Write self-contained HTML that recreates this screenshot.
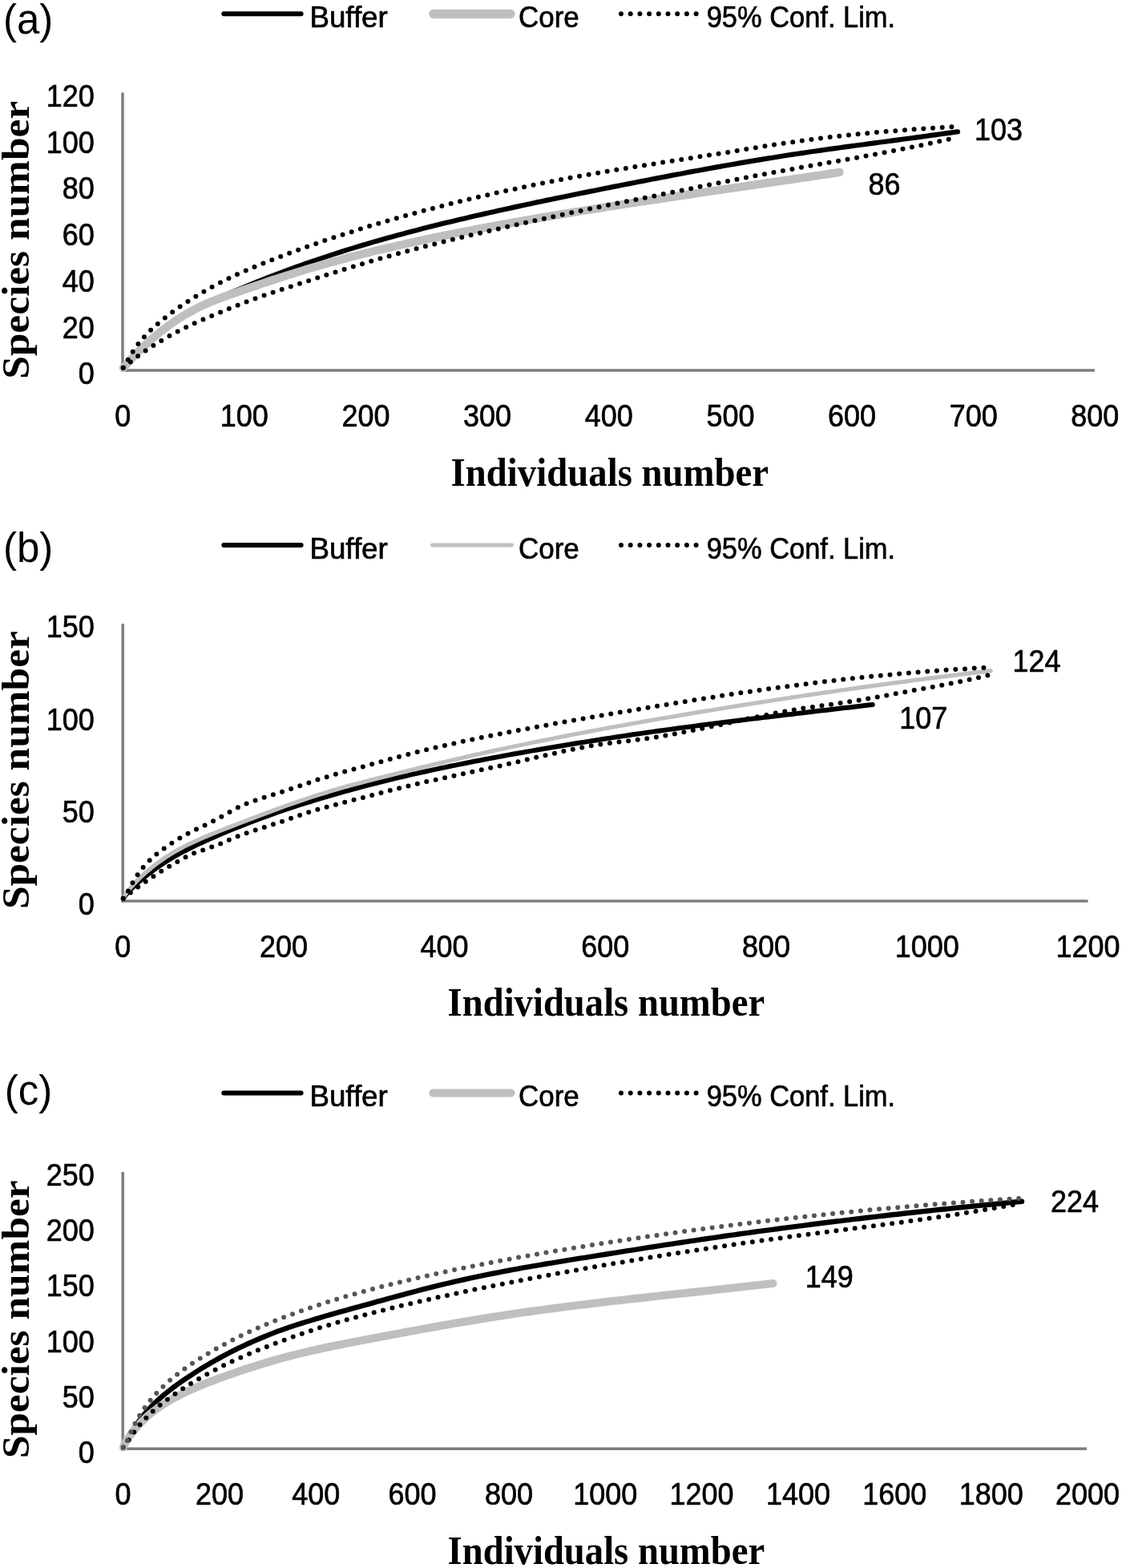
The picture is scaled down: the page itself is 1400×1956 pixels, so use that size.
<!DOCTYPE html>
<html lang="en">
<head>
<meta charset="utf-8">
<title>Rarefaction curves: Buffer vs Core</title>
<style>
html,body{margin:0;padding:0;background:#fff;}
body{width:1400px;height:1956px;overflow:hidden;}
svg{display:block;}
text{fill:#000;}
</style>
</head>
<body>
<svg width="1400" height="1956" viewBox="0 0 1400 1956">
<rect x="0" y="0" width="1400" height="1956" fill="#ffffff"/>
<text x="4" y="41.5" font-family="'Liberation Sans', sans-serif" font-size="51" font-weight="normal" text-anchor="start">(a)</text>
<line x1="279.3" y1="17.3" x2="375.6" y2="17.3" stroke="#000" stroke-width="6" stroke-linecap="round"/>
<text x="386.4" y="33.8" font-family="'Liberation Sans', sans-serif" font-size="37.5" font-weight="normal" text-anchor="start" textLength="97.4" lengthAdjust="spacingAndGlyphs" stroke="#000" stroke-width="0.7">Buffer</text>
<line x1="540.9499999999999" y1="17.3" x2="636.95" y2="17.3" stroke="#bfbfbf" stroke-width="11.3" stroke-linecap="round"/>
<text x="647.1" y="33.8" font-family="'Liberation Sans', sans-serif" font-size="37.5" font-weight="normal" text-anchor="start" textLength="75.7" lengthAdjust="spacingAndGlyphs" stroke="#000" stroke-width="0.7">Core</text>
<line x1="775" y1="17.3" x2="869" y2="17.3" stroke="#000" stroke-width="6.0" stroke-linecap="round" stroke-dasharray="0 11.7"/>
<text x="881.7" y="33.8" font-family="'Liberation Sans', sans-serif" font-size="37.5" font-weight="normal" text-anchor="start" textLength="235.4" lengthAdjust="spacingAndGlyphs" stroke="#000" stroke-width="0.7">95% Conf. Lim.</text>
<line x1="153.0" y1="115.5" x2="153.0" y2="463.65" stroke="#7e7e7e" stroke-width="3.5"/>
<line x1="151.25" y1="461.9" x2="1366" y2="461.9" stroke="#7e7e7e" stroke-width="3.5"/>
<text x="57.8" y="132.8" font-family="'Liberation Sans', sans-serif" font-size="39" font-weight="normal" text-anchor="start" textLength="60.0" lengthAdjust="spacingAndGlyphs" stroke="#000" stroke-width="0.7">120</text>
<text x="57.8" y="190.5" font-family="'Liberation Sans', sans-serif" font-size="39" font-weight="normal" text-anchor="start" textLength="60.0" lengthAdjust="spacingAndGlyphs" stroke="#000" stroke-width="0.7">100</text>
<text x="77.8" y="248.3" font-family="'Liberation Sans', sans-serif" font-size="39" font-weight="normal" text-anchor="start" textLength="40.0" lengthAdjust="spacingAndGlyphs" stroke="#000" stroke-width="0.7">80</text>
<text x="77.8" y="306.0" font-family="'Liberation Sans', sans-serif" font-size="39" font-weight="normal" text-anchor="start" textLength="40.0" lengthAdjust="spacingAndGlyphs" stroke="#000" stroke-width="0.7">60</text>
<text x="77.8" y="363.7" font-family="'Liberation Sans', sans-serif" font-size="39" font-weight="normal" text-anchor="start" textLength="40.0" lengthAdjust="spacingAndGlyphs" stroke="#000" stroke-width="0.7">40</text>
<text x="77.8" y="421.5" font-family="'Liberation Sans', sans-serif" font-size="39" font-weight="normal" text-anchor="start" textLength="40.0" lengthAdjust="spacingAndGlyphs" stroke="#000" stroke-width="0.7">20</text>
<text x="97.8" y="479.2" font-family="'Liberation Sans', sans-serif" font-size="39" font-weight="normal" text-anchor="start" textLength="20.0" lengthAdjust="spacingAndGlyphs" stroke="#000" stroke-width="0.7">0</text>
<text x="143.2" y="531.8" font-family="'Liberation Sans', sans-serif" font-size="39" font-weight="normal" text-anchor="start" textLength="20.0" lengthAdjust="spacingAndGlyphs" stroke="#000" stroke-width="0.7">0</text>
<text x="274.8" y="531.8" font-family="'Liberation Sans', sans-serif" font-size="39" font-weight="normal" text-anchor="start" textLength="60.0" lengthAdjust="spacingAndGlyphs" stroke="#000" stroke-width="0.7">100</text>
<text x="426.5" y="531.8" font-family="'Liberation Sans', sans-serif" font-size="39" font-weight="normal" text-anchor="start" textLength="60.0" lengthAdjust="spacingAndGlyphs" stroke="#000" stroke-width="0.7">200</text>
<text x="578.1" y="531.8" font-family="'Liberation Sans', sans-serif" font-size="39" font-weight="normal" text-anchor="start" textLength="60.0" lengthAdjust="spacingAndGlyphs" stroke="#000" stroke-width="0.7">300</text>
<text x="729.8" y="531.8" font-family="'Liberation Sans', sans-serif" font-size="39" font-weight="normal" text-anchor="start" textLength="60.0" lengthAdjust="spacingAndGlyphs" stroke="#000" stroke-width="0.7">400</text>
<text x="881.4" y="531.8" font-family="'Liberation Sans', sans-serif" font-size="39" font-weight="normal" text-anchor="start" textLength="60.0" lengthAdjust="spacingAndGlyphs" stroke="#000" stroke-width="0.7">500</text>
<text x="1033.0" y="531.8" font-family="'Liberation Sans', sans-serif" font-size="39" font-weight="normal" text-anchor="start" textLength="60.0" lengthAdjust="spacingAndGlyphs" stroke="#000" stroke-width="0.7">600</text>
<text x="1184.7" y="531.8" font-family="'Liberation Sans', sans-serif" font-size="39" font-weight="normal" text-anchor="start" textLength="60.0" lengthAdjust="spacingAndGlyphs" stroke="#000" stroke-width="0.7">700</text>
<text x="1336.3" y="531.8" font-family="'Liberation Sans', sans-serif" font-size="39" font-weight="normal" text-anchor="start" textLength="60.0" lengthAdjust="spacingAndGlyphs" stroke="#000" stroke-width="0.7">800</text>
<text x="562.6" y="605.6" font-family="'Liberation Serif', serif" font-size="50" font-weight="bold" text-anchor="start" textLength="396.5" lengthAdjust="spacingAndGlyphs">Individuals number</text>
<text x="0" y="0" font-family="'Liberation Serif', serif" font-size="51.4" font-weight="bold" text-anchor="start" transform="translate(35.7 472.8) scale(0.93 1) rotate(-90)">Species number</text>
<path d="M153.8 458.8 L154.8 458.1 L155.8 457.0 L156.8 455.9 L157.8 454.8 L158.8 453.6 L159.8 452.5 L160.8 451.3 L161.8 450.2 L162.8 449.1 L163.8 447.9 L164.8 446.8 L165.8 445.7 L166.8 444.7 L167.8 443.6 L168.8 442.5 L169.8 441.5 L170.8 440.4 L171.8 439.4 L172.8 438.4 L173.8 437.4 L174.8 436.4 L175.8 435.4 L176.8 434.4 L177.8 433.4 L178.8 432.5 L179.8 431.5 L180.8 430.6 L181.8 429.6 L182.8 428.7 L183.8 427.8 L184.8 426.9 L185.8 426.0 L186.8 425.1 L187.8 424.2 L188.8 423.3 L189.8 422.4 L190.8 421.6 L191.8 420.7 L192.8 419.9 L193.8 419.0 L194.8 418.2 L195.8 417.4 L196.8 416.6 L197.8 415.8 L198.8 415.0 L199.8 414.2 L200.8 413.4 L201.8 412.6 L202.8 411.9 L203.8 411.1 L204.8 410.3 L205.8 409.6 L206.8 408.9 L207.8 408.1 L208.8 407.4 L209.8 406.7 L210.8 406.0 L211.8 405.3 L212.8 404.6 L213.8 403.9 L214.8 403.2 L215.8 402.5 L216.8 401.8 L217.8 401.2 L218.8 400.5 L219.8 399.8 L220.8 399.2 L221.8 398.5 L222.8 397.9 L223.8 397.3 L224.8 396.6 L225.8 396.0 L226.8 395.4 L227.8 394.8 L228.8 394.2 L229.8 393.6 L230.8 393.0 L231.8 392.4 L232.8 391.8 L237.8 389.0 L243.8 385.7 L249.8 382.6 L255.8 379.7 L261.8 376.8 L267.8 374.1 L273.8 371.4 L279.8 368.7 L285.8 366.1 L291.8 363.5 L297.8 361.0 L303.8 358.5 L309.8 356.0 L315.8 353.6 L321.8 351.2 L327.8 348.8 L333.8 346.5 L339.8 344.1 L345.8 341.9 L351.8 339.6 L357.8 337.4 L363.8 335.2 L369.8 333.0 L375.8 330.9 L381.8 328.8 L387.8 326.7 L393.8 324.6 L399.8 322.6 L405.8 320.6 L411.8 318.6 L417.8 316.6 L423.8 314.7 L429.8 312.8 L435.8 310.9 L441.8 309.1 L447.8 307.3 L453.8 305.5 L459.8 303.7 L465.8 301.9 L471.8 300.2 L477.8 298.5 L483.8 296.8 L489.8 295.2 L495.8 293.5 L501.8 291.9 L507.8 290.3 L513.8 288.7 L519.8 287.2 L525.8 285.6 L531.8 284.1 L537.8 282.6 L543.8 281.1 L549.8 279.6 L555.8 278.1 L561.8 276.7 L567.8 275.2 L573.8 273.8 L579.8 272.4 L585.8 271.0 L591.8 269.6 L597.8 268.2 L603.8 266.9 L609.8 265.5 L615.8 264.2 L621.8 262.8 L627.8 261.5 L633.8 260.2 L639.8 258.9 L645.8 257.6 L651.8 256.3 L657.8 255.0 L663.8 253.7 L669.8 252.4 L675.8 251.2 L681.8 249.9 L687.8 248.7 L693.8 247.4 L699.8 246.2 L705.8 245.0 L711.8 243.7 L717.8 242.5 L723.8 241.3 L729.8 240.1 L735.8 238.9 L741.8 237.7 L747.8 236.5 L753.8 235.3 L759.8 234.1 L765.8 232.9 L771.8 231.7 L777.8 230.5 L783.8 229.4 L789.8 228.2 L795.8 227.0 L801.8 225.9 L807.8 224.7 L813.8 223.5 L819.8 222.4 L825.8 221.2 L831.8 220.1 L837.8 218.9 L843.8 217.8 L849.8 216.7 L855.8 215.5 L861.8 214.4 L867.8 213.3 L873.8 212.2 L879.8 211.1 L885.8 210.0 L891.8 208.9 L897.8 207.9 L903.8 206.8 L909.8 205.7 L915.8 204.7 L921.8 203.6 L927.8 202.6 L933.8 201.6 L939.8 200.6 L945.8 199.6 L951.8 198.6 L957.8 197.6 L963.8 196.7 L969.8 195.7 L975.8 194.7 L981.8 193.8 L987.8 192.9 L993.8 192.0 L999.8 191.1 L1005.8 190.2 L1011.8 189.3 L1017.8 188.5 L1023.8 187.6 L1029.8 186.8 L1035.8 185.9 L1041.8 185.1 L1047.8 184.3 L1053.8 183.4 L1059.8 182.6 L1065.8 181.8 L1071.8 181.0 L1077.8 180.2 L1083.8 179.4 L1089.8 178.6 L1095.8 177.8 L1101.8 177.0 L1107.8 176.2 L1113.8 175.4 L1119.8 174.6 L1125.8 173.8 L1131.8 173.0 L1137.8 172.2 L1143.8 171.4 L1149.8 170.6 L1155.8 169.8 L1161.8 168.9 L1167.8 168.1 L1173.8 167.3 L1179.8 166.4 L1185.8 165.6 L1191.8 164.7 L1195.0 164.3" fill="none" stroke="#000" stroke-width="6.2" stroke-linecap="round" stroke-linejoin="round"/>
<path d="M153.8 458.8 L154.8 458.0 L155.8 456.8 L156.8 455.7 L157.8 454.6 L158.8 453.4 L159.8 452.3 L160.8 451.2 L161.8 450.0 L162.8 448.9 L163.8 447.8 L164.8 446.8 L165.8 445.7 L166.8 444.6 L167.8 443.6 L168.8 442.5 L169.8 441.5 L170.8 440.5 L171.8 439.4 L172.8 438.4 L173.8 437.4 L174.8 436.4 L175.8 435.5 L176.8 434.5 L177.8 433.5 L178.8 432.6 L179.8 431.6 L180.8 430.7 L181.8 429.8 L182.8 428.8 L183.8 427.9 L184.8 427.0 L185.8 426.1 L186.8 425.2 L187.8 424.4 L188.8 423.5 L189.8 422.6 L190.8 421.7 L191.8 420.9 L192.8 420.0 L193.8 419.2 L194.8 418.4 L195.8 417.5 L196.8 416.7 L197.8 415.9 L198.8 415.1 L199.8 414.3 L200.8 413.5 L201.8 412.7 L202.8 412.0 L203.8 411.2 L204.8 410.4 L205.8 409.7 L206.8 408.9 L207.8 408.2 L208.8 407.4 L209.8 406.7 L210.8 406.0 L211.8 405.2 L212.8 404.5 L213.8 403.8 L214.8 403.1 L215.8 402.4 L216.8 401.7 L217.8 401.0 L218.8 400.4 L219.8 399.7 L220.8 399.0 L221.8 398.4 L222.8 397.7 L223.8 397.1 L224.8 396.4 L225.8 395.8 L226.8 395.2 L227.8 394.5 L228.8 393.9 L229.8 393.3 L230.8 392.7 L231.8 392.1 L232.8 391.5 L237.8 388.7 L243.8 385.5 L249.8 382.5 L255.8 379.7 L261.8 377.1 L267.8 374.7 L273.8 372.4 L279.8 370.1 L285.8 368.0 L291.8 365.9 L297.8 363.8 L303.8 361.7 L309.8 359.7 L315.8 357.6 L321.8 355.6 L327.8 353.5 L333.8 351.5 L339.8 349.5 L345.8 347.6 L351.8 345.6 L357.8 343.7 L363.8 341.8 L369.8 339.9 L375.8 338.1 L381.8 336.2 L387.8 334.4 L393.8 332.7 L399.8 330.9 L405.8 329.2 L411.8 327.5 L417.8 325.9 L423.8 324.3 L429.8 322.7 L435.8 321.1 L441.8 319.5 L447.8 318.0 L453.8 316.5 L459.8 315.0 L465.8 313.6 L471.8 312.1 L477.8 310.7 L483.8 309.3 L489.8 307.9 L495.8 306.5 L501.8 305.2 L507.8 303.8 L513.8 302.5 L519.8 301.2 L525.8 299.9 L531.8 298.6 L537.8 297.3 L543.8 296.1 L549.8 294.9 L555.8 293.6 L561.8 292.4 L567.8 291.2 L573.8 290.0 L579.8 288.9 L585.8 287.7 L591.8 286.5 L597.8 285.4 L603.8 284.3 L609.8 283.1 L615.8 282.0 L621.8 280.9 L627.8 279.8 L633.8 278.7 L639.8 277.7 L645.8 276.6 L651.8 275.5 L657.8 274.5 L663.8 273.5 L669.8 272.4 L675.8 271.4 L681.8 270.4 L687.8 269.4 L693.8 268.4 L699.8 267.4 L705.8 266.4 L711.8 265.4 L717.8 264.4 L723.8 263.5 L729.8 262.5 L735.8 261.5 L741.8 260.6 L747.8 259.6 L753.8 258.7 L759.8 257.7 L765.8 256.8 L771.8 255.9 L777.8 254.9 L783.8 254.0 L789.8 253.1 L795.8 252.2 L801.8 251.3 L807.8 250.4 L813.8 249.5 L819.8 248.6 L825.8 247.6 L831.8 246.8 L837.8 245.9 L843.8 245.0 L849.8 244.1 L855.8 243.2 L861.8 242.3 L867.8 241.4 L873.8 240.5 L879.8 239.6 L885.8 238.7 L891.8 237.9 L897.8 237.0 L903.8 236.1 L909.8 235.2 L915.8 234.3 L921.8 233.5 L927.8 232.6 L933.8 231.7 L939.8 230.8 L945.8 229.9 L951.8 229.1 L957.8 228.2 L963.8 227.3 L969.8 226.4 L975.8 225.6 L981.8 224.7 L987.8 223.8 L993.8 222.9 L999.8 222.0 L1005.8 221.2 L1011.8 220.3 L1017.8 219.4 L1023.8 218.5 L1029.8 217.6 L1035.8 216.7 L1041.8 215.9 L1047.5 215.0" fill="none" stroke="#bfbfbf" stroke-width="10.3" stroke-linecap="round" stroke-linejoin="round"/>
<path d="M153.8 458.8 L154.8 458.0 L155.8 456.1 L156.8 454.3 L157.8 452.4 L158.8 450.5 L159.8 448.7 L160.8 446.9 L161.8 445.1 L162.8 443.4 L163.8 441.8 L164.8 440.1 L165.8 438.6 L166.8 437.0 L167.8 435.5 L168.8 434.0 L169.8 432.6 L170.8 431.2 L171.8 429.9 L172.8 428.6 L173.8 427.3 L174.8 426.0 L175.8 424.8 L176.8 423.7 L177.8 422.5 L178.8 421.4 L179.8 420.3 L180.8 419.2 L181.8 418.1 L182.8 417.1 L183.8 416.0 L184.8 415.0 L185.8 414.0 L186.8 413.0 L187.8 412.1 L188.8 411.1 L189.8 410.2 L190.8 409.3 L191.8 408.3 L192.8 407.4 L193.8 406.5 L194.8 405.6 L195.8 404.8 L196.8 403.9 L197.8 403.0 L198.8 402.2 L199.8 401.3 L200.8 400.5 L201.8 399.7 L202.8 398.9 L203.8 398.1 L204.8 397.3 L205.8 396.5 L206.8 395.7 L207.8 394.9 L208.8 394.1 L209.8 393.4 L210.8 392.6 L211.8 391.8 L212.8 391.1 L213.8 390.3 L214.8 389.6 L215.8 388.9 L216.8 388.1 L217.8 387.4 L218.8 386.7 L219.8 386.0 L220.8 385.3 L221.8 384.6 L222.8 383.9 L223.8 383.2 L224.8 382.5 L225.8 381.8 L226.8 381.1 L227.8 380.4 L228.8 379.8 L229.8 379.1 L230.8 378.4 L231.8 377.8 L232.8 377.1 L234.8 375.8 L237.8 373.9 L240.8 372.0 L243.8 370.1 L246.8 368.3 L249.8 366.5 L252.8 364.7 L255.8 362.9 L258.8 361.2 L261.8 359.5 L264.8 357.9 L267.8 356.3 L270.8 354.7 L273.8 353.1 L276.8 351.5 L279.8 350.0 L282.8 348.5 L285.8 347.1 L288.8 345.6 L291.8 344.2 L294.8 342.8 L297.8 341.5 L300.8 340.1 L303.8 338.8 L306.8 337.5 L309.8 336.2 L312.8 334.9 L315.8 333.7 L318.8 332.4 L321.8 331.2 L324.8 330.0 L327.8 328.8 L330.8 327.6 L333.8 326.4 L336.8 325.2 L339.8 324.1 L342.8 322.9 L345.8 321.7 L348.8 320.6 L351.8 319.4 L354.8 318.3 L357.8 317.2 L360.8 316.0 L363.8 314.9 L366.8 313.8 L369.8 312.7 L372.8 311.6 L375.8 310.5 L378.8 309.4 L381.8 308.3 L384.8 307.3 L387.8 306.2 L390.8 305.1 L393.8 304.1 L396.8 303.0 L399.8 302.0 L402.8 301.0 L405.8 299.9 L408.8 298.9 L411.8 297.9 L414.8 296.9 L417.8 295.9 L420.8 294.9 L423.8 293.9 L426.8 292.9 L429.8 292.0 L432.8 291.0 L435.8 290.0 L438.8 289.1 L441.8 288.1 L444.8 287.2 L447.8 286.2 L450.8 285.3 L453.8 284.4 L456.8 283.4 L459.8 282.5 L462.8 281.6 L465.8 280.7 L468.8 279.8 L471.8 278.9 L474.8 278.0 L477.8 277.1 L480.8 276.2 L483.8 275.4 L486.8 274.5 L489.8 273.6 L492.8 272.8 L495.8 271.9 L498.8 271.1 L501.8 270.2 L504.8 269.4 L507.8 268.5 L510.8 267.7 L513.8 266.9 L516.8 266.1 L519.8 265.2 L522.8 264.4 L525.8 263.6 L528.8 262.8 L531.8 262.0 L534.8 261.2 L537.8 260.4 L540.8 259.7 L543.8 258.9 L546.8 258.1 L549.8 257.3 L552.8 256.6 L555.8 255.8 L558.8 255.1 L561.8 254.3 L564.8 253.6 L567.8 252.8 L570.8 252.1 L573.8 251.3 L576.8 250.6 L579.8 249.9 L582.8 249.2 L585.8 248.4 L588.8 247.7 L591.8 247.0 L594.8 246.3 L597.8 245.6 L600.8 244.9 L603.8 244.2 L606.8 243.5 L609.8 242.8 L612.8 242.2 L615.8 241.5 L618.8 240.8 L621.8 240.1 L624.8 239.5 L627.8 238.8 L630.8 238.2 L633.8 237.5 L636.8 236.9 L639.8 236.2 L642.8 235.6 L645.8 234.9 L648.8 234.3 L651.8 233.7 L654.8 233.0 L657.8 232.4 L660.8 231.8 L663.8 231.2 L666.8 230.6 L669.8 230.0 L672.8 229.4 L675.8 228.8 L678.8 228.2 L681.8 227.6 L684.8 227.0 L687.8 226.4 L690.8 225.8 L693.8 225.2 L696.8 224.7 L699.8 224.1 L702.8 223.5 L705.8 222.9 L708.8 222.4 L711.8 221.8 L714.8 221.3 L717.8 220.7 L720.8 220.2 L723.8 219.6 L726.8 219.1 L729.8 218.6 L732.8 218.0 L735.8 217.5 L738.8 217.0 L741.8 216.4 L744.8 215.9 L747.8 215.4 L750.8 214.9 L753.8 214.4 L756.8 213.9 L759.8 213.4 L762.8 212.9 L765.8 212.4 L768.8 211.9 L771.8 211.4 L774.8 210.9 L777.8 210.4 L780.8 209.9 L783.8 209.4 L786.8 208.9 L789.8 208.5 L792.8 208.0 L795.8 207.5 L798.8 207.0 L801.8 206.5 L804.8 206.1 L807.8 205.6 L810.8 205.1 L813.8 204.7 L816.8 204.2 L819.8 203.7 L822.8 203.2 L825.8 202.8 L828.8 202.3 L831.8 201.8 L834.8 201.4 L837.8 200.9 L840.8 200.4 L843.8 200.0 L846.8 199.5 L849.8 199.0 L852.8 198.6 L855.8 198.1 L858.8 197.6 L861.8 197.2 L864.8 196.7 L867.8 196.2 L870.8 195.8 L873.8 195.3 L876.8 194.8 L879.8 194.4 L882.8 193.9 L885.8 193.4 L888.8 192.9 L891.8 192.5 L894.8 192.0 L897.8 191.5 L900.8 191.0 L903.8 190.5 L906.8 190.1 L909.8 189.6 L912.8 189.1 L915.8 188.6 L918.8 188.1 L921.8 187.6 L924.8 187.1 L927.8 186.7 L930.8 186.2 L933.8 185.7 L936.8 185.2 L939.8 184.7 L942.8 184.2 L945.8 183.8 L948.8 183.3 L951.8 182.8 L954.8 182.3 L957.8 181.9 L960.8 181.4 L963.8 180.9 L966.8 180.5 L969.8 180.0 L972.8 179.6 L975.8 179.1 L978.8 178.7 L981.8 178.2 L984.8 177.8 L987.8 177.4 L990.8 176.9 L993.8 176.5 L996.8 176.1 L999.8 175.7 L1002.8 175.3 L1005.8 174.9 L1008.8 174.5 L1011.8 174.1 L1014.8 173.7 L1017.8 173.3 L1020.8 172.9 L1023.8 172.5 L1026.8 172.2 L1029.8 171.8 L1032.8 171.5 L1035.8 171.1 L1038.8 170.7 L1041.8 170.4 L1044.8 170.1 L1047.8 169.7 L1050.8 169.4 L1053.8 169.1 L1056.8 168.7 L1059.8 168.4 L1062.8 168.1 L1065.8 167.8 L1068.8 167.5 L1071.8 167.2 L1074.8 166.9 L1077.8 166.6 L1080.8 166.3 L1083.8 166.0 L1086.8 165.7 L1089.8 165.5 L1092.8 165.2 L1095.8 164.9 L1098.8 164.7 L1101.8 164.4 L1104.8 164.1 L1107.8 163.9 L1110.8 163.6 L1113.8 163.4 L1116.8 163.2 L1119.8 162.9 L1122.8 162.7 L1125.8 162.4 L1128.8 162.2 L1131.8 162.0 L1134.8 161.8 L1137.8 161.5 L1140.8 161.3 L1143.8 161.1 L1146.8 160.9 L1149.8 160.7 L1152.8 160.5 L1155.8 160.3 L1158.8 160.1 L1161.8 159.9 L1164.8 159.7 L1167.8 159.5 L1170.8 159.3 L1173.8 159.1 L1176.8 158.9 L1179.8 158.7 L1182.8 158.5 L1185.8 158.4 L1187.5 158.3" fill="none" stroke="#000" stroke-width="6.0" stroke-linecap="round" stroke-linejoin="round" stroke-dasharray="0 11.718"/>
<path d="M153.8 458.8 L154.8 458.0 L155.8 457.2 L156.8 456.4 L157.8 455.5 L158.8 454.7 L159.8 453.9 L160.8 453.1 L161.8 452.3 L162.8 451.5 L163.8 450.7 L164.8 449.9 L165.8 449.1 L166.8 448.3 L167.8 447.5 L168.8 446.8 L169.8 446.0 L170.8 445.3 L171.8 444.5 L172.8 443.8 L173.8 443.1 L174.8 442.3 L175.8 441.6 L176.8 440.9 L177.8 440.2 L178.8 439.5 L179.8 438.8 L180.8 438.1 L181.8 437.4 L182.8 436.7 L183.8 436.1 L184.8 435.4 L185.8 434.7 L186.8 434.1 L187.8 433.4 L188.8 432.7 L189.8 432.1 L190.8 431.4 L191.8 430.8 L192.8 430.2 L193.8 429.5 L194.8 428.9 L195.8 428.3 L196.8 427.7 L197.8 427.0 L198.8 426.4 L199.8 425.8 L200.8 425.2 L201.8 424.6 L202.8 424.0 L203.8 423.4 L204.8 422.9 L205.8 422.3 L206.8 421.7 L207.8 421.1 L208.8 420.5 L209.8 420.0 L210.8 419.4 L211.8 418.9 L212.8 418.3 L213.8 417.7 L214.8 417.2 L215.8 416.6 L216.8 416.1 L217.8 415.6 L218.8 415.0 L219.8 414.5 L220.8 414.0 L221.8 413.4 L222.8 412.9 L223.8 412.4 L224.8 411.9 L225.8 411.4 L226.8 410.9 L227.8 410.4 L228.8 409.9 L229.8 409.4 L230.8 408.9 L231.8 408.4 L232.8 407.9 L234.8 406.9 L237.8 405.5 L240.8 404.1 L243.8 402.8 L246.8 401.4 L249.8 400.1 L252.8 398.9 L255.8 397.6 L258.8 396.3 L261.8 395.1 L264.8 393.8 L267.8 392.6 L270.8 391.3 L273.8 390.1 L276.8 388.8 L279.8 387.6 L282.8 386.4 L285.8 385.1 L288.8 383.9 L291.8 382.7 L294.8 381.5 L297.8 380.3 L300.8 379.1 L303.8 378.0 L306.8 376.8 L309.8 375.7 L312.8 374.5 L315.8 373.4 L318.8 372.3 L321.8 371.2 L324.8 370.2 L327.8 369.1 L330.8 368.1 L333.8 367.0 L336.8 366.0 L339.8 365.0 L342.8 364.0 L345.8 363.0 L348.8 362.0 L351.8 361.0 L354.8 360.0 L357.8 359.0 L360.8 358.1 L363.8 357.1 L366.8 356.1 L369.8 355.2 L372.8 354.2 L375.8 353.2 L378.8 352.3 L381.8 351.3 L384.8 350.3 L387.8 349.4 L390.8 348.4 L393.8 347.4 L396.8 346.4 L399.8 345.5 L402.8 344.5 L405.8 343.5 L408.8 342.6 L411.8 341.6 L414.8 340.6 L417.8 339.7 L420.8 338.7 L423.8 337.8 L426.8 336.8 L429.8 335.9 L432.8 335.0 L435.8 334.0 L438.8 333.1 L441.8 332.2 L444.8 331.3 L447.8 330.4 L450.8 329.5 L453.8 328.6 L456.8 327.7 L459.8 326.8 L462.8 325.9 L465.8 325.1 L468.8 324.2 L471.8 323.3 L474.8 322.5 L477.8 321.6 L480.8 320.8 L483.8 319.9 L486.8 319.1 L489.8 318.3 L492.8 317.4 L495.8 316.6 L498.8 315.8 L501.8 315.0 L504.8 314.2 L507.8 313.4 L510.8 312.6 L513.8 311.8 L516.8 311.0 L519.8 310.2 L522.8 309.4 L525.8 308.7 L528.8 307.9 L531.8 307.1 L534.8 306.4 L537.8 305.6 L540.8 304.8 L543.8 304.1 L546.8 303.3 L549.8 302.6 L552.8 301.8 L555.8 301.1 L558.8 300.4 L561.8 299.6 L564.8 298.9 L567.8 298.2 L570.8 297.4 L573.8 296.7 L576.8 296.0 L579.8 295.3 L582.8 294.6 L585.8 293.8 L588.8 293.1 L591.8 292.4 L594.8 291.7 L597.8 291.0 L600.8 290.3 L603.8 289.6 L606.8 288.9 L609.8 288.2 L612.8 287.5 L615.8 286.8 L618.8 286.1 L621.8 285.4 L624.8 284.8 L627.8 284.1 L630.8 283.4 L633.8 282.7 L636.8 282.0 L639.8 281.3 L642.8 280.7 L645.8 280.0 L648.8 279.3 L651.8 278.6 L654.8 278.0 L657.8 277.3 L660.8 276.6 L663.8 276.0 L666.8 275.3 L669.8 274.7 L672.8 274.0 L675.8 273.3 L678.8 272.7 L681.8 272.0 L684.8 271.4 L687.8 270.7 L690.8 270.1 L693.8 269.5 L696.8 268.8 L699.8 268.2 L702.8 267.5 L705.8 266.9 L708.8 266.3 L711.8 265.6 L714.8 265.0 L717.8 264.4 L720.8 263.7 L723.8 263.1 L726.8 262.5 L729.8 261.9 L732.8 261.2 L735.8 260.6 L738.8 260.0 L741.8 259.4 L744.8 258.8 L747.8 258.2 L750.8 257.5 L753.8 256.9 L756.8 256.3 L759.8 255.7 L762.8 255.1 L765.8 254.5 L768.8 253.9 L771.8 253.3 L774.8 252.7 L777.8 252.1 L780.8 251.5 L783.8 250.9 L786.8 250.3 L789.8 249.7 L792.8 249.1 L795.8 248.5 L798.8 247.9 L801.8 247.3 L804.8 246.7 L807.8 246.1 L810.8 245.5 L813.8 244.9 L816.8 244.3 L819.8 243.7 L822.8 243.1 L825.8 242.5 L828.8 241.9 L831.8 241.3 L834.8 240.7 L837.8 240.1 L840.8 239.5 L843.8 238.9 L846.8 238.3 L849.8 237.7 L852.8 237.1 L855.8 236.5 L858.8 235.9 L861.8 235.3 L864.8 234.7 L867.8 234.1 L870.8 233.5 L873.8 232.8 L876.8 232.2 L879.8 231.6 L882.8 231.0 L885.8 230.4 L888.8 229.8 L891.8 229.2 L894.8 228.6 L897.8 228.0 L900.8 227.4 L903.8 226.8 L906.8 226.2 L909.8 225.6 L912.8 225.0 L915.8 224.4 L918.8 223.8 L921.8 223.2 L924.8 222.7 L927.8 222.1 L930.8 221.5 L933.8 220.9 L936.8 220.3 L939.8 219.8 L942.8 219.2 L945.8 218.6 L948.8 218.1 L951.8 217.5 L954.8 217.0 L957.8 216.4 L960.8 215.8 L963.8 215.3 L966.8 214.8 L969.8 214.2 L972.8 213.7 L975.8 213.1 L978.8 212.6 L981.8 212.1 L984.8 211.5 L987.8 211.0 L990.8 210.5 L993.8 209.9 L996.8 209.4 L999.8 208.9 L1002.8 208.3 L1005.8 207.8 L1008.8 207.3 L1011.8 206.8 L1014.8 206.2 L1017.8 205.7 L1020.8 205.2 L1023.8 204.7 L1026.8 204.1 L1029.8 203.6 L1032.8 203.1 L1035.8 202.6 L1038.8 202.0 L1041.8 201.5 L1044.8 201.0 L1047.8 200.5 L1050.8 199.9 L1053.8 199.4 L1056.8 198.9 L1059.8 198.3 L1062.8 197.8 L1065.8 197.3 L1068.8 196.7 L1071.8 196.2 L1074.8 195.6 L1077.8 195.1 L1080.8 194.5 L1083.8 194.0 L1086.8 193.4 L1089.8 192.9 L1092.8 192.3 L1095.8 191.8 L1098.8 191.2 L1101.8 190.6 L1104.8 190.1 L1107.8 189.5 L1110.8 188.9 L1113.8 188.3 L1116.8 187.7 L1119.8 187.2 L1122.8 186.6 L1125.8 186.0 L1128.8 185.4 L1131.8 184.8 L1134.8 184.2 L1137.8 183.6 L1140.8 183.0 L1143.8 182.3 L1146.8 181.7 L1149.8 181.1 L1152.8 180.5 L1155.8 179.8 L1158.8 179.2 L1161.8 178.6 L1164.8 177.9 L1167.8 177.3 L1170.8 176.6 L1173.8 176.0 L1176.8 175.3 L1179.8 174.6 L1182.8 174.0 L1183.8 173.7" fill="none" stroke="#000" stroke-width="6.0" stroke-linecap="round" stroke-linejoin="round" stroke-dasharray="0 11.693"/>
<text x="1216.0" y="174.7" font-family="'Liberation Sans', sans-serif" font-size="39" font-weight="normal" text-anchor="start" textLength="60.0" lengthAdjust="spacingAndGlyphs" stroke="#000" stroke-width="0.7">103</text>
<text x="1083.6" y="242.6" font-family="'Liberation Sans', sans-serif" font-size="39" font-weight="normal" text-anchor="start" textLength="40.0" lengthAdjust="spacingAndGlyphs" stroke="#000" stroke-width="0.7">86</text>
<text x="4" y="701" font-family="'Liberation Sans', sans-serif" font-size="51" font-weight="normal" text-anchor="start">(b)</text>
<line x1="279.3" y1="680" x2="375.6" y2="680" stroke="#000" stroke-width="6" stroke-linecap="round"/>
<text x="386.4" y="696.5" font-family="'Liberation Sans', sans-serif" font-size="37.5" font-weight="normal" text-anchor="start" textLength="97.4" lengthAdjust="spacingAndGlyphs" stroke="#000" stroke-width="0.7">Buffer</text>
<line x1="539.4" y1="680" x2="638.6" y2="680" stroke="#bfbfbf" stroke-width="4.8" stroke-linecap="round"/>
<text x="647.1" y="696.5" font-family="'Liberation Sans', sans-serif" font-size="37.5" font-weight="normal" text-anchor="start" textLength="75.7" lengthAdjust="spacingAndGlyphs" stroke="#000" stroke-width="0.7">Core</text>
<line x1="775" y1="680" x2="869" y2="680" stroke="#000" stroke-width="6.0" stroke-linecap="round" stroke-dasharray="0 11.7"/>
<text x="881.7" y="696.5" font-family="'Liberation Sans', sans-serif" font-size="37.5" font-weight="normal" text-anchor="start" textLength="235.4" lengthAdjust="spacingAndGlyphs" stroke="#000" stroke-width="0.7">95% Conf. Lim.</text>
<line x1="153.2" y1="778" x2="153.2" y2="1125.65" stroke="#7e7e7e" stroke-width="3.5"/>
<line x1="151.45" y1="1123.9" x2="1357.5" y2="1123.9" stroke="#7e7e7e" stroke-width="3.5"/>
<text x="57.8" y="795.3" font-family="'Liberation Sans', sans-serif" font-size="39" font-weight="normal" text-anchor="start" textLength="60.0" lengthAdjust="spacingAndGlyphs" stroke="#000" stroke-width="0.7">150</text>
<text x="57.8" y="910.6" font-family="'Liberation Sans', sans-serif" font-size="39" font-weight="normal" text-anchor="start" textLength="60.0" lengthAdjust="spacingAndGlyphs" stroke="#000" stroke-width="0.7">100</text>
<text x="77.8" y="1025.9" font-family="'Liberation Sans', sans-serif" font-size="39" font-weight="normal" text-anchor="start" textLength="40.0" lengthAdjust="spacingAndGlyphs" stroke="#000" stroke-width="0.7">50</text>
<text x="97.8" y="1141.2" font-family="'Liberation Sans', sans-serif" font-size="39" font-weight="normal" text-anchor="start" textLength="20.0" lengthAdjust="spacingAndGlyphs" stroke="#000" stroke-width="0.7">0</text>
<text x="143.2" y="1193.8" font-family="'Liberation Sans', sans-serif" font-size="39" font-weight="normal" text-anchor="start" textLength="20.0" lengthAdjust="spacingAndGlyphs" stroke="#000" stroke-width="0.7">0</text>
<text x="323.9" y="1193.8" font-family="'Liberation Sans', sans-serif" font-size="39" font-weight="normal" text-anchor="start" textLength="60.0" lengthAdjust="spacingAndGlyphs" stroke="#000" stroke-width="0.7">200</text>
<text x="524.6" y="1193.8" font-family="'Liberation Sans', sans-serif" font-size="39" font-weight="normal" text-anchor="start" textLength="60.0" lengthAdjust="spacingAndGlyphs" stroke="#000" stroke-width="0.7">400</text>
<text x="725.3" y="1193.8" font-family="'Liberation Sans', sans-serif" font-size="39" font-weight="normal" text-anchor="start" textLength="60.0" lengthAdjust="spacingAndGlyphs" stroke="#000" stroke-width="0.7">600</text>
<text x="926.1" y="1193.8" font-family="'Liberation Sans', sans-serif" font-size="39" font-weight="normal" text-anchor="start" textLength="60.0" lengthAdjust="spacingAndGlyphs" stroke="#000" stroke-width="0.7">800</text>
<text x="1116.8" y="1193.8" font-family="'Liberation Sans', sans-serif" font-size="39" font-weight="normal" text-anchor="start" textLength="80.0" lengthAdjust="spacingAndGlyphs" stroke="#000" stroke-width="0.7">1000</text>
<text x="1317.5" y="1193.8" font-family="'Liberation Sans', sans-serif" font-size="39" font-weight="normal" text-anchor="start" textLength="80.0" lengthAdjust="spacingAndGlyphs" stroke="#000" stroke-width="0.7">1200</text>
<text x="558.6" y="1267.3" font-family="'Liberation Serif', serif" font-size="50" font-weight="bold" text-anchor="start" textLength="395.5" lengthAdjust="spacingAndGlyphs">Individuals number</text>
<text x="0" y="0" font-family="'Liberation Serif', serif" font-size="51.4" font-weight="bold" text-anchor="start" transform="translate(35.7 1134.1) scale(0.93 1) rotate(-90)">Species number</text>
<path d="M153.8 1120.8 L154.8 1119.0 L155.8 1117.7 L156.8 1116.5 L157.8 1115.4 L158.8 1114.2 L159.8 1113.1 L160.8 1112.1 L161.8 1111.0 L162.8 1110.0 L163.8 1109.0 L164.8 1108.0 L165.8 1107.0 L166.8 1106.0 L167.8 1105.1 L168.8 1104.1 L169.8 1103.2 L170.8 1102.3 L171.8 1101.4 L172.8 1100.5 L173.8 1099.6 L174.8 1098.8 L175.8 1097.9 L176.8 1097.1 L177.8 1096.2 L178.8 1095.4 L179.8 1094.6 L180.8 1093.7 L181.8 1092.9 L182.8 1092.1 L183.8 1091.3 L184.8 1090.6 L185.8 1089.8 L186.8 1089.0 L187.8 1088.3 L188.8 1087.5 L189.8 1086.8 L190.8 1086.0 L191.8 1085.3 L192.8 1084.6 L193.8 1083.8 L194.8 1083.1 L195.8 1082.4 L196.8 1081.7 L197.8 1081.0 L198.8 1080.3 L199.8 1079.7 L200.8 1079.0 L201.8 1078.3 L202.8 1077.6 L203.8 1077.0 L204.8 1076.3 L205.8 1075.7 L206.8 1075.0 L207.8 1074.4 L208.8 1073.8 L209.8 1073.2 L210.8 1072.5 L211.8 1071.9 L212.8 1071.3 L213.8 1070.7 L214.8 1070.1 L215.8 1069.5 L216.8 1068.9 L217.8 1068.4 L218.8 1067.8 L219.8 1067.2 L220.8 1066.6 L221.8 1066.1 L222.8 1065.5 L223.8 1065.0 L224.8 1064.4 L225.8 1063.9 L226.8 1063.3 L227.8 1062.8 L228.8 1062.3 L229.8 1061.7 L230.8 1061.2 L231.8 1060.7 L232.8 1060.2 L237.8 1057.7 L243.8 1054.8 L249.8 1051.9 L255.8 1049.2 L261.8 1046.5 L267.8 1043.9 L273.8 1041.3 L279.8 1038.8 L285.8 1036.3 L291.8 1033.8 L297.8 1031.4 L303.8 1029.1 L309.8 1026.7 L315.8 1024.4 L321.8 1022.2 L327.8 1019.9 L333.8 1017.8 L339.8 1015.6 L345.8 1013.5 L351.8 1011.5 L357.8 1009.4 L363.8 1007.4 L369.8 1005.5 L375.8 1003.5 L381.8 1001.6 L387.8 999.8 L393.8 997.9 L399.8 996.1 L405.8 994.3 L411.8 992.6 L417.8 990.8 L423.8 989.1 L429.8 987.4 L435.8 985.8 L441.8 984.1 L447.8 982.5 L453.8 980.9 L459.8 979.4 L465.8 977.8 L471.8 976.3 L477.8 974.8 L483.8 973.3 L489.8 971.9 L495.8 970.4 L501.8 969.0 L507.8 967.6 L513.8 966.2 L519.8 964.9 L525.8 963.5 L531.8 962.2 L537.8 960.9 L543.8 959.6 L549.8 958.3 L555.8 957.1 L561.8 955.8 L567.8 954.6 L573.8 953.4 L579.8 952.2 L585.8 951.0 L591.8 949.8 L597.8 948.7 L603.8 947.5 L609.8 946.4 L615.8 945.2 L621.8 944.1 L627.8 943.0 L633.8 941.9 L639.8 940.8 L645.8 939.8 L651.8 938.7 L657.8 937.6 L663.8 936.6 L669.8 935.5 L675.8 934.5 L681.8 933.5 L687.8 932.5 L693.8 931.5 L699.8 930.5 L705.8 929.5 L711.8 928.5 L717.8 927.5 L723.8 926.5 L729.8 925.6 L735.8 924.6 L741.8 923.7 L747.8 922.7 L753.8 921.8 L759.8 920.9 L765.8 919.9 L771.8 919.0 L777.8 918.1 L783.8 917.2 L789.8 916.3 L795.8 915.5 L801.8 914.6 L807.8 913.7 L813.8 912.9 L819.8 912.0 L825.8 911.2 L831.8 910.4 L837.8 909.6 L843.8 908.7 L849.8 907.9 L855.8 907.1 L861.8 906.4 L867.8 905.6 L873.8 904.8 L879.8 904.0 L885.8 903.3 L891.8 902.5 L897.8 901.7 L903.8 901.0 L909.8 900.2 L915.8 899.5 L921.8 898.8 L927.8 898.0 L933.8 897.3 L939.8 896.6 L945.8 895.9 L951.8 895.1 L957.8 894.4 L963.8 893.7 L969.8 893.0 L975.8 892.3 L981.8 891.6 L987.8 890.9 L993.8 890.1 L999.8 889.4 L1005.8 888.7 L1011.8 888.0 L1017.8 887.3 L1023.8 886.6 L1029.8 885.9 L1035.8 885.2 L1041.8 884.5 L1047.8 883.8 L1053.8 883.1 L1059.8 882.4 L1065.8 881.7 L1071.8 881.0 L1077.8 880.3 L1083.8 879.6 L1088.8 879.0" fill="none" stroke="#000" stroke-width="6" stroke-linecap="round" stroke-linejoin="round"/>
<path d="M153.8 1120.8 L154.8 1118.4 L155.8 1116.8 L156.8 1115.3 L157.8 1113.9 L158.8 1112.6 L159.8 1111.3 L160.8 1110.0 L161.8 1108.8 L162.8 1107.6 L163.8 1106.5 L164.8 1105.3 L165.8 1104.2 L166.8 1103.1 L167.8 1102.0 L168.8 1101.0 L169.8 1099.9 L170.8 1098.9 L171.8 1097.9 L172.8 1096.9 L173.8 1095.9 L174.8 1094.9 L175.8 1094.0 L176.8 1093.0 L177.8 1092.1 L178.8 1091.2 L179.8 1090.3 L180.8 1089.4 L181.8 1088.5 L182.8 1087.6 L183.8 1086.8 L184.8 1085.9 L185.8 1085.1 L186.8 1084.2 L187.8 1083.4 L188.8 1082.6 L189.8 1081.8 L190.8 1081.0 L191.8 1080.2 L192.8 1079.4 L193.8 1078.7 L194.8 1077.9 L195.8 1077.2 L196.8 1076.4 L197.8 1075.7 L198.8 1075.0 L199.8 1074.3 L200.8 1073.5 L201.8 1072.8 L202.8 1072.1 L203.8 1071.5 L204.8 1070.8 L205.8 1070.1 L206.8 1069.4 L207.8 1068.8 L208.8 1068.1 L209.8 1067.5 L210.8 1066.9 L211.8 1066.2 L212.8 1065.6 L213.8 1065.0 L214.8 1064.4 L215.8 1063.8 L216.8 1063.2 L217.8 1062.6 L218.8 1062.0 L219.8 1061.4 L220.8 1060.9 L221.8 1060.3 L222.8 1059.8 L223.8 1059.2 L224.8 1058.7 L225.8 1058.1 L226.8 1057.6 L227.8 1057.1 L228.8 1056.5 L229.8 1056.0 L230.8 1055.5 L231.8 1055.0 L232.8 1054.5 L237.8 1052.1 L243.8 1049.3 L249.8 1046.6 L255.8 1044.0 L261.8 1041.5 L267.8 1039.1 L273.8 1036.7 L279.8 1034.4 L285.8 1032.0 L291.8 1029.7 L297.8 1027.4 L303.8 1025.1 L309.8 1022.8 L315.8 1020.5 L321.8 1018.2 L327.8 1016.0 L333.8 1013.7 L339.8 1011.5 L345.8 1009.3 L351.8 1007.1 L357.8 1004.9 L363.8 1002.8 L369.8 1000.7 L375.8 998.7 L381.8 996.6 L387.8 994.6 L393.8 992.7 L399.8 990.8 L405.8 988.9 L411.8 987.0 L417.8 985.2 L423.8 983.5 L429.8 981.8 L435.8 980.1 L441.8 978.5 L447.8 976.9 L453.8 975.4 L459.8 973.8 L465.8 972.3 L471.8 970.8 L477.8 969.3 L483.8 967.7 L489.8 966.2 L495.8 964.7 L501.8 963.3 L507.8 961.8 L513.8 960.3 L519.8 958.8 L525.8 957.4 L531.8 955.9 L537.8 954.5 L543.8 953.0 L549.8 951.6 L555.8 950.2 L561.8 948.8 L567.8 947.4 L573.8 946.0 L579.8 944.6 L585.8 943.2 L591.8 941.9 L597.8 940.5 L603.8 939.2 L609.8 937.9 L615.8 936.6 L621.8 935.3 L627.8 934.0 L633.8 932.7 L639.8 931.5 L645.8 930.2 L651.8 929.0 L657.8 927.7 L663.8 926.5 L669.8 925.3 L675.8 924.1 L681.8 922.9 L687.8 921.7 L693.8 920.5 L699.8 919.3 L705.8 918.1 L711.8 917.0 L717.8 915.8 L723.8 914.7 L729.8 913.5 L735.8 912.4 L741.8 911.3 L747.8 910.2 L753.8 909.0 L759.8 907.9 L765.8 906.8 L771.8 905.8 L777.8 904.7 L783.8 903.6 L789.8 902.5 L795.8 901.5 L801.8 900.4 L807.8 899.4 L813.8 898.3 L819.8 897.3 L825.8 896.2 L831.8 895.2 L837.8 894.2 L843.8 893.2 L849.8 892.1 L855.8 891.1 L861.8 890.1 L867.8 889.1 L873.8 888.1 L879.8 887.1 L885.8 886.2 L891.8 885.2 L897.8 884.2 L903.8 883.2 L909.8 882.3 L915.8 881.3 L921.8 880.4 L927.8 879.4 L933.8 878.5 L939.8 877.5 L945.8 876.6 L951.8 875.6 L957.8 874.7 L963.8 873.8 L969.8 872.9 L975.8 872.0 L981.8 871.0 L987.8 870.1 L993.8 869.2 L999.8 868.3 L1005.8 867.4 L1011.8 866.6 L1017.8 865.7 L1023.8 864.8 L1029.8 863.9 L1035.8 863.1 L1041.8 862.2 L1047.8 861.3 L1053.8 860.5 L1059.8 859.6 L1065.8 858.8 L1071.8 857.9 L1077.8 857.1 L1083.8 856.3 L1089.8 855.5 L1095.8 854.6 L1101.8 853.8 L1107.8 853.0 L1113.8 852.2 L1119.8 851.4 L1125.8 850.6 L1131.8 849.8 L1137.8 849.0 L1143.8 848.2 L1149.8 847.5 L1155.8 846.7 L1161.8 845.9 L1167.8 845.1 L1173.8 844.4 L1179.8 843.6 L1185.8 842.9 L1191.8 842.1 L1197.8 841.4 L1203.8 840.7 L1209.8 839.9 L1215.8 839.2 L1221.8 838.5 L1227.8 837.8 L1233.8 837.0 L1236.2 836.8" fill="none" stroke="#bfbfbf" stroke-width="5.2" stroke-linecap="round" stroke-linejoin="round"/>
<path d="M153.8 1120.7 L154.8 1121.0 L155.8 1119.3 L156.8 1117.4 L157.8 1115.5 L158.8 1113.5 L159.8 1111.6 L160.8 1109.7 L161.8 1107.8 L162.8 1106.0 L163.8 1104.2 L164.8 1102.4 L165.8 1100.7 L166.8 1099.0 L167.8 1097.3 L168.8 1095.7 L169.8 1094.1 L170.8 1092.6 L171.8 1091.1 L172.8 1089.7 L173.8 1088.3 L174.8 1086.9 L175.8 1085.6 L176.8 1084.3 L177.8 1083.0 L178.8 1081.8 L179.8 1080.6 L180.8 1079.4 L181.8 1078.3 L182.8 1077.2 L183.8 1076.2 L184.8 1075.1 L185.8 1074.1 L186.8 1073.2 L187.8 1072.2 L188.8 1071.3 L189.8 1070.4 L190.8 1069.5 L191.8 1068.6 L192.8 1067.7 L193.8 1066.9 L194.8 1066.1 L195.8 1065.2 L196.8 1064.4 L197.8 1063.6 L198.8 1062.9 L199.8 1062.1 L200.8 1061.3 L201.8 1060.6 L202.8 1059.8 L203.8 1059.1 L204.8 1058.4 L205.8 1057.7 L206.8 1057.0 L207.8 1056.3 L208.8 1055.6 L209.8 1054.9 L210.8 1054.2 L211.8 1053.5 L212.8 1052.9 L213.8 1052.2 L214.8 1051.5 L215.8 1050.9 L216.8 1050.2 L217.8 1049.6 L218.8 1049.0 L219.8 1048.3 L220.8 1047.7 L221.8 1047.1 L222.8 1046.5 L223.8 1045.9 L224.8 1045.3 L225.8 1044.7 L226.8 1044.1 L227.8 1043.6 L228.8 1043.0 L229.8 1042.4 L230.8 1041.9 L231.8 1041.3 L232.8 1040.8 L234.8 1039.7 L237.8 1038.1 L240.8 1036.6 L243.8 1035.1 L246.8 1033.7 L249.8 1032.3 L252.8 1030.8 L255.8 1029.4 L258.8 1027.9 L261.8 1026.4 L264.8 1024.9 L267.8 1023.4 L270.8 1021.7 L273.8 1020.1 L276.8 1018.4 L279.8 1016.7 L282.8 1015.0 L285.8 1013.3 L288.8 1011.6 L291.8 1010.0 L294.8 1008.4 L297.8 1006.9 L300.8 1005.5 L303.8 1004.1 L306.8 1002.8 L309.8 1001.6 L312.8 1000.5 L315.8 999.4 L318.8 998.4 L321.8 997.4 L324.8 996.4 L327.8 995.4 L330.8 994.4 L333.8 993.5 L336.8 992.5 L339.8 991.6 L342.8 990.6 L345.8 989.7 L348.8 988.7 L351.8 987.7 L354.8 986.7 L357.8 985.7 L360.8 984.7 L363.8 983.7 L366.8 982.7 L369.8 981.7 L372.8 980.7 L375.8 979.6 L378.8 978.6 L381.8 977.6 L384.8 976.6 L387.8 975.5 L390.8 974.5 L393.8 973.5 L396.8 972.5 L399.8 971.6 L402.8 970.6 L405.8 969.7 L408.8 968.8 L411.8 967.9 L414.8 967.0 L417.8 966.1 L420.8 965.2 L423.8 964.4 L426.8 963.5 L429.8 962.7 L432.8 961.9 L435.8 961.0 L438.8 960.2 L441.8 959.4 L444.8 958.6 L447.8 957.8 L450.8 957.0 L453.8 956.2 L456.8 955.3 L459.8 954.5 L462.8 953.7 L465.8 952.9 L468.8 952.1 L471.8 951.2 L474.8 950.4 L477.8 949.6 L480.8 948.7 L483.8 947.9 L486.8 947.1 L489.8 946.2 L492.8 945.4 L495.8 944.6 L498.8 943.8 L501.8 943.0 L504.8 942.2 L507.8 941.4 L510.8 940.6 L513.8 939.8 L516.8 939.1 L519.8 938.3 L522.8 937.6 L525.8 936.8 L528.8 936.1 L531.8 935.4 L534.8 934.6 L537.8 933.9 L540.8 933.2 L543.8 932.5 L546.8 931.8 L549.8 931.1 L552.8 930.4 L555.8 929.7 L558.8 929.1 L561.8 928.4 L564.8 927.7 L567.8 927.1 L570.8 926.4 L573.8 925.7 L576.8 925.1 L579.8 924.4 L582.8 923.8 L585.8 923.2 L588.8 922.5 L591.8 921.9 L594.8 921.3 L597.8 920.7 L600.8 920.1 L603.8 919.4 L606.8 918.8 L609.8 918.2 L612.8 917.6 L615.8 917.0 L618.8 916.4 L621.8 915.9 L624.8 915.3 L627.8 914.7 L630.8 914.1 L633.8 913.5 L636.8 912.9 L639.8 912.4 L642.8 911.8 L645.8 911.2 L648.8 910.7 L651.8 910.1 L654.8 909.5 L657.8 909.0 L660.8 908.4 L663.8 907.9 L666.8 907.3 L669.8 906.8 L672.8 906.2 L675.8 905.7 L678.8 905.1 L681.8 904.6 L684.8 904.0 L687.8 903.5 L690.8 903.0 L693.8 902.4 L696.8 901.9 L699.8 901.3 L702.8 900.8 L705.8 900.3 L708.8 899.8 L711.8 899.2 L714.8 898.7 L717.8 898.2 L720.8 897.7 L723.8 897.1 L726.8 896.6 L729.8 896.1 L732.8 895.6 L735.8 895.1 L738.8 894.5 L741.8 894.0 L744.8 893.5 L747.8 893.0 L750.8 892.5 L753.8 892.0 L756.8 891.5 L759.8 891.0 L762.8 890.4 L765.8 889.9 L768.8 889.4 L771.8 888.9 L774.8 888.4 L777.8 887.9 L780.8 887.4 L783.8 886.9 L786.8 886.4 L789.8 885.9 L792.8 885.4 L795.8 884.9 L798.8 884.4 L801.8 883.9 L804.8 883.4 L807.8 882.9 L810.8 882.4 L813.8 881.9 L816.8 881.4 L819.8 880.9 L822.8 880.4 L825.8 879.9 L828.8 879.4 L831.8 878.9 L834.8 878.4 L837.8 877.9 L840.8 877.4 L843.8 876.9 L846.8 876.5 L849.8 876.0 L852.8 875.5 L855.8 875.0 L858.8 874.5 L861.8 874.0 L864.8 873.5 L867.8 873.1 L870.8 872.6 L873.8 872.1 L876.8 871.6 L879.8 871.2 L882.8 870.7 L885.8 870.2 L888.8 869.8 L891.8 869.3 L894.8 868.8 L897.8 868.4 L900.8 867.9 L903.8 867.4 L906.8 867.0 L909.8 866.5 L912.8 866.1 L915.8 865.6 L918.8 865.2 L921.8 864.7 L924.8 864.3 L927.8 863.8 L930.8 863.4 L933.8 863.0 L936.8 862.5 L939.8 862.1 L942.8 861.7 L945.8 861.2 L948.8 860.8 L951.8 860.4 L954.8 859.9 L957.8 859.5 L960.8 859.1 L963.8 858.7 L966.8 858.3 L969.8 857.9 L972.8 857.5 L975.8 857.1 L978.8 856.7 L981.8 856.3 L984.8 855.9 L987.8 855.5 L990.8 855.1 L993.8 854.7 L996.8 854.3 L999.8 853.9 L1002.8 853.5 L1005.8 853.1 L1008.8 852.8 L1011.8 852.4 L1014.8 852.0 L1017.8 851.7 L1020.8 851.3 L1023.8 850.9 L1026.8 850.6 L1029.8 850.2 L1032.8 849.8 L1035.8 849.5 L1038.8 849.1 L1041.8 848.8 L1044.8 848.5 L1047.8 848.1 L1050.8 847.8 L1053.8 847.4 L1056.8 847.1 L1059.8 846.8 L1062.8 846.4 L1065.8 846.1 L1068.8 845.8 L1071.8 845.5 L1074.8 845.2 L1077.8 844.8 L1080.8 844.5 L1083.8 844.2 L1086.8 843.9 L1089.8 843.6 L1092.8 843.3 L1095.8 843.0 L1098.8 842.7 L1101.8 842.4 L1104.8 842.2 L1107.8 841.9 L1110.8 841.6 L1113.8 841.3 L1116.8 841.0 L1119.8 840.8 L1122.8 840.5 L1125.8 840.2 L1128.8 840.0 L1131.8 839.7 L1134.8 839.4 L1137.8 839.2 L1140.8 838.9 L1143.8 838.7 L1146.8 838.4 L1149.8 838.2 L1152.8 838.0 L1155.8 837.7 L1158.8 837.5 L1161.8 837.3 L1164.8 837.0 L1167.8 836.8 L1170.8 836.6 L1173.8 836.4 L1176.8 836.2 L1179.8 835.9 L1182.8 835.7 L1185.8 835.5 L1188.8 835.3 L1191.8 835.1 L1194.8 834.9 L1197.8 834.7 L1200.8 834.6 L1203.8 834.4 L1206.8 834.2 L1209.8 834.0 L1212.8 833.8 L1215.8 833.6 L1218.8 833.5 L1221.8 833.3 L1224.8 833.1 L1227.5 833.0" fill="none" stroke="#000" stroke-width="6.0" stroke-linecap="round" stroke-linejoin="round" stroke-dasharray="0 11.726"/>
<path d="M153.8 1120.8 L154.8 1119.9 L155.8 1119.1 L156.8 1118.2 L157.8 1117.4 L158.8 1116.6 L159.8 1115.8 L160.8 1115.0 L161.8 1114.2 L162.8 1113.4 L163.8 1112.7 L164.8 1111.9 L165.8 1111.1 L166.8 1110.4 L167.8 1109.6 L168.8 1108.9 L169.8 1108.2 L170.8 1107.4 L171.8 1106.7 L172.8 1106.0 L173.8 1105.2 L174.8 1104.5 L175.8 1103.8 L176.8 1103.1 L177.8 1102.4 L178.8 1101.7 L179.8 1101.0 L180.8 1100.3 L181.8 1099.6 L182.8 1098.9 L183.8 1098.3 L184.8 1097.6 L185.8 1096.9 L186.8 1096.2 L187.8 1095.6 L188.8 1094.9 L189.8 1094.2 L190.8 1093.6 L191.8 1092.9 L192.8 1092.3 L193.8 1091.6 L194.8 1091.0 L195.8 1090.3 L196.8 1089.7 L197.8 1089.1 L198.8 1088.4 L199.8 1087.8 L200.8 1087.2 L201.8 1086.5 L202.8 1085.9 L203.8 1085.3 L204.8 1084.7 L205.8 1084.1 L206.8 1083.5 L207.8 1082.8 L208.8 1082.2 L209.8 1081.6 L210.8 1081.0 L211.8 1080.4 L212.8 1079.8 L213.8 1079.2 L214.8 1078.7 L215.8 1078.1 L216.8 1077.5 L217.8 1076.9 L218.8 1076.3 L219.8 1075.7 L220.8 1075.2 L221.8 1074.6 L222.8 1074.0 L223.8 1073.5 L224.8 1072.9 L225.8 1072.3 L226.8 1071.8 L227.8 1071.2 L228.8 1070.7 L229.8 1070.1 L230.8 1069.6 L231.8 1069.1 L232.8 1068.6 L234.8 1067.6 L237.8 1066.1 L240.8 1064.8 L243.8 1063.6 L246.8 1062.5 L249.8 1061.5 L252.8 1060.5 L255.8 1059.5 L258.8 1058.5 L261.8 1057.5 L264.8 1056.4 L267.8 1055.3 L270.8 1054.2 L273.8 1053.0 L276.8 1051.8 L279.8 1050.5 L282.8 1049.1 L285.8 1047.8 L288.8 1046.5 L291.8 1045.3 L294.8 1044.1 L297.8 1042.9 L300.8 1041.8 L303.8 1040.7 L306.8 1039.6 L309.8 1038.6 L312.8 1037.6 L315.8 1036.5 L318.8 1035.5 L321.8 1034.6 L324.8 1033.6 L327.8 1032.6 L330.8 1031.6 L333.8 1030.6 L336.8 1029.7 L339.8 1028.7 L342.8 1027.7 L345.8 1026.7 L348.8 1025.7 L351.8 1024.7 L354.8 1023.7 L357.8 1022.6 L360.8 1021.6 L363.8 1020.5 L366.8 1019.4 L369.8 1018.4 L372.8 1017.4 L375.8 1016.3 L378.8 1015.3 L381.8 1014.3 L384.8 1013.3 L387.8 1012.4 L390.8 1011.5 L393.8 1010.6 L396.8 1009.7 L399.8 1008.9 L402.8 1008.0 L405.8 1007.2 L408.8 1006.4 L411.8 1005.6 L414.8 1004.8 L417.8 1004.0 L420.8 1003.2 L423.8 1002.5 L426.8 1001.7 L429.8 1000.9 L432.8 1000.1 L435.8 999.4 L438.8 998.6 L441.8 997.8 L444.8 997.0 L447.8 996.2 L450.8 995.5 L453.8 994.7 L456.8 993.9 L459.8 993.1 L462.8 992.3 L465.8 991.5 L468.8 990.7 L471.8 990.0 L474.8 989.2 L477.8 988.4 L480.8 987.6 L483.8 986.8 L486.8 986.0 L489.8 985.3 L492.8 984.5 L495.8 983.8 L498.8 983.0 L501.8 982.3 L504.8 981.5 L507.8 980.8 L510.8 980.1 L513.8 979.4 L516.8 978.7 L519.8 978.0 L522.8 977.3 L525.8 976.6 L528.8 975.9 L531.8 975.2 L534.8 974.6 L537.8 973.9 L540.8 973.2 L543.8 972.6 L546.8 971.9 L549.8 971.3 L552.8 970.6 L555.8 970.0 L558.8 969.3 L561.8 968.7 L564.8 968.0 L567.8 967.4 L570.8 966.7 L573.8 966.1 L576.8 965.5 L579.8 964.8 L582.8 964.2 L585.8 963.5 L588.8 962.9 L591.8 962.3 L594.8 961.6 L597.8 961.0 L600.8 960.3 L603.8 959.7 L606.8 959.0 L609.8 958.4 L612.8 957.7 L615.8 957.1 L618.8 956.4 L621.8 955.8 L624.8 955.1 L627.8 954.4 L630.8 953.8 L633.8 953.1 L636.8 952.4 L639.8 951.7 L642.8 951.1 L645.8 950.4 L648.8 949.7 L651.8 949.0 L654.8 948.3 L657.8 947.6 L660.8 946.9 L663.8 946.2 L666.8 945.5 L669.8 944.7 L672.8 944.0 L675.8 943.3 L678.8 942.6 L681.8 941.9 L684.8 941.2 L687.8 940.5 L690.8 939.9 L693.8 939.2 L696.8 938.5 L699.8 937.9 L702.8 937.2 L705.8 936.6 L708.8 935.9 L711.8 935.3 L714.8 934.7 L717.8 934.1 L720.8 933.5 L723.8 932.9 L726.8 932.3 L729.8 931.8 L732.8 931.2 L735.8 930.7 L738.8 930.2 L741.8 929.7 L744.8 929.2 L747.8 928.8 L750.8 928.3 L753.8 927.9 L756.8 927.5 L759.8 927.1 L762.8 926.7 L765.8 926.4 L768.8 926.0 L771.8 925.6 L774.8 925.3 L777.8 924.9 L780.8 924.6 L783.8 924.2 L786.8 923.9 L789.8 923.5 L792.8 923.1 L795.8 922.7 L798.8 922.4 L801.8 921.9 L804.8 921.5 L807.8 921.1 L810.8 920.7 L813.8 920.2 L816.8 919.7 L819.8 919.3 L822.8 918.8 L825.8 918.3 L828.8 917.8 L831.8 917.3 L834.8 916.7 L837.8 916.2 L840.8 915.7 L843.8 915.1 L846.8 914.6 L849.8 914.0 L852.8 913.4 L855.8 912.8 L858.8 912.3 L861.8 911.7 L864.8 911.1 L867.8 910.5 L870.8 909.9 L873.8 909.3 L876.8 908.6 L879.8 908.0 L882.8 907.4 L885.8 906.8 L888.8 906.1 L891.8 905.5 L894.8 904.9 L897.8 904.2 L900.8 903.6 L903.8 902.9 L906.8 902.3 L909.8 901.7 L912.8 901.0 L915.8 900.4 L918.8 899.7 L921.8 899.1 L924.8 898.4 L927.8 897.8 L930.8 897.2 L933.8 896.5 L936.8 895.9 L939.8 895.3 L942.8 894.6 L945.8 894.0 L948.8 893.4 L951.8 892.8 L954.8 892.2 L957.8 891.6 L960.8 891.0 L963.8 890.4 L966.8 889.8 L969.8 889.2 L972.8 888.7 L975.8 888.1 L978.8 887.6 L981.8 887.0 L984.8 886.5 L987.8 886.0 L990.8 885.5 L993.8 885.0 L996.8 884.5 L999.8 884.0 L1002.8 883.5 L1005.8 883.1 L1008.8 882.6 L1011.8 882.2 L1014.8 881.8 L1017.8 881.3 L1020.8 880.9 L1023.8 880.5 L1026.8 880.1 L1029.8 879.6 L1032.8 879.2 L1035.8 878.8 L1038.8 878.4 L1041.8 878.0 L1044.8 877.5 L1047.8 877.1 L1050.8 876.6 L1053.8 876.2 L1056.8 875.7 L1059.8 875.3 L1062.8 874.8 L1065.8 874.3 L1068.8 873.9 L1071.8 873.4 L1074.8 872.9 L1077.8 872.4 L1080.8 871.9 L1083.8 871.4 L1086.8 870.9 L1089.8 870.3 L1092.8 869.8 L1095.8 869.3 L1098.8 868.8 L1101.8 868.2 L1104.8 867.7 L1107.8 867.2 L1110.8 866.6 L1113.8 866.1 L1116.8 865.5 L1119.8 865.0 L1122.8 864.5 L1125.8 863.9 L1128.8 863.4 L1131.8 862.8 L1134.8 862.2 L1137.8 861.7 L1140.8 861.1 L1143.8 860.6 L1146.8 860.0 L1149.8 859.5 L1152.8 858.9 L1155.8 858.4 L1158.8 857.8 L1161.8 857.3 L1164.8 856.7 L1167.8 856.1 L1170.8 855.6 L1173.8 855.0 L1176.8 854.4 L1179.8 853.9 L1182.8 853.3 L1185.8 852.7 L1188.8 852.1 L1191.8 851.5 L1194.8 850.9 L1197.8 850.3 L1200.8 849.7 L1203.8 849.0 L1206.8 848.4 L1209.8 847.8 L1212.8 847.1 L1215.8 846.4 L1218.8 845.8 L1221.8 845.1 L1224.8 844.4 L1227.8 843.7 L1230.8 842.9 L1232.5 842.5" fill="none" stroke="#000" stroke-width="6.0" stroke-linecap="round" stroke-linejoin="round" stroke-dasharray="0 11.688"/>
<text x="1263.5" y="838.4" font-family="'Liberation Sans', sans-serif" font-size="39" font-weight="normal" text-anchor="start" textLength="60.0" lengthAdjust="spacingAndGlyphs" stroke="#000" stroke-width="0.7">124</text>
<text x="1122.3" y="909.0" font-family="'Liberation Sans', sans-serif" font-size="39" font-weight="normal" text-anchor="start" textLength="60.0" lengthAdjust="spacingAndGlyphs" stroke="#000" stroke-width="0.7">107</text>
<text x="5.8" y="1378" font-family="'Liberation Sans', sans-serif" font-size="51" font-weight="normal" text-anchor="start">(c)</text>
<line x1="279.3" y1="1363.5" x2="375.6" y2="1363.5" stroke="#000" stroke-width="6" stroke-linecap="round"/>
<text x="386.4" y="1380" font-family="'Liberation Sans', sans-serif" font-size="37.5" font-weight="normal" text-anchor="start" textLength="97.4" lengthAdjust="spacingAndGlyphs" stroke="#000" stroke-width="0.7">Buffer</text>
<line x1="540.3" y1="1363.5" x2="637.6" y2="1363.5" stroke="#bfbfbf" stroke-width="10" stroke-linecap="round"/>
<text x="647.1" y="1380" font-family="'Liberation Sans', sans-serif" font-size="37.5" font-weight="normal" text-anchor="start" textLength="75.7" lengthAdjust="spacingAndGlyphs" stroke="#000" stroke-width="0.7">Core</text>
<line x1="775" y1="1363.5" x2="869" y2="1363.5" stroke="#000" stroke-width="6.0" stroke-linecap="round" stroke-dasharray="0 11.7"/>
<text x="881.7" y="1380" font-family="'Liberation Sans', sans-serif" font-size="37.5" font-weight="normal" text-anchor="start" textLength="235.4" lengthAdjust="spacingAndGlyphs" stroke="#000" stroke-width="0.7">95% Conf. Lim.</text>
<line x1="153.2" y1="1462" x2="153.2" y2="1809.05" stroke="#7e7e7e" stroke-width="3.5"/>
<line x1="151.45" y1="1807.3" x2="1356" y2="1807.3" stroke="#7e7e7e" stroke-width="3.5"/>
<text x="57.8" y="1479.3" font-family="'Liberation Sans', sans-serif" font-size="39" font-weight="normal" text-anchor="start" textLength="60.0" lengthAdjust="spacingAndGlyphs" stroke="#000" stroke-width="0.7">250</text>
<text x="57.8" y="1548.4" font-family="'Liberation Sans', sans-serif" font-size="39" font-weight="normal" text-anchor="start" textLength="60.0" lengthAdjust="spacingAndGlyphs" stroke="#000" stroke-width="0.7">200</text>
<text x="57.8" y="1617.4" font-family="'Liberation Sans', sans-serif" font-size="39" font-weight="normal" text-anchor="start" textLength="60.0" lengthAdjust="spacingAndGlyphs" stroke="#000" stroke-width="0.7">150</text>
<text x="57.8" y="1686.5" font-family="'Liberation Sans', sans-serif" font-size="39" font-weight="normal" text-anchor="start" textLength="60.0" lengthAdjust="spacingAndGlyphs" stroke="#000" stroke-width="0.7">100</text>
<text x="77.8" y="1755.5" font-family="'Liberation Sans', sans-serif" font-size="39" font-weight="normal" text-anchor="start" textLength="40.0" lengthAdjust="spacingAndGlyphs" stroke="#000" stroke-width="0.7">50</text>
<text x="97.8" y="1824.6" font-family="'Liberation Sans', sans-serif" font-size="39" font-weight="normal" text-anchor="start" textLength="20.0" lengthAdjust="spacingAndGlyphs" stroke="#000" stroke-width="0.7">0</text>
<text x="143.5" y="1877.2" font-family="'Liberation Sans', sans-serif" font-size="39" font-weight="normal" text-anchor="start" textLength="20.0" lengthAdjust="spacingAndGlyphs" stroke="#000" stroke-width="0.7">0</text>
<text x="243.9" y="1877.2" font-family="'Liberation Sans', sans-serif" font-size="39" font-weight="normal" text-anchor="start" textLength="60.0" lengthAdjust="spacingAndGlyphs" stroke="#000" stroke-width="0.7">200</text>
<text x="364.2" y="1877.2" font-family="'Liberation Sans', sans-serif" font-size="39" font-weight="normal" text-anchor="start" textLength="60.0" lengthAdjust="spacingAndGlyphs" stroke="#000" stroke-width="0.7">400</text>
<text x="484.5" y="1877.2" font-family="'Liberation Sans', sans-serif" font-size="39" font-weight="normal" text-anchor="start" textLength="60.0" lengthAdjust="spacingAndGlyphs" stroke="#000" stroke-width="0.7">600</text>
<text x="604.9" y="1877.2" font-family="'Liberation Sans', sans-serif" font-size="39" font-weight="normal" text-anchor="start" textLength="60.0" lengthAdjust="spacingAndGlyphs" stroke="#000" stroke-width="0.7">800</text>
<text x="715.2" y="1877.2" font-family="'Liberation Sans', sans-serif" font-size="39" font-weight="normal" text-anchor="start" textLength="80.0" lengthAdjust="spacingAndGlyphs" stroke="#000" stroke-width="0.7">1000</text>
<text x="835.6" y="1877.2" font-family="'Liberation Sans', sans-serif" font-size="39" font-weight="normal" text-anchor="start" textLength="80.0" lengthAdjust="spacingAndGlyphs" stroke="#000" stroke-width="0.7">1200</text>
<text x="956.0" y="1877.2" font-family="'Liberation Sans', sans-serif" font-size="39" font-weight="normal" text-anchor="start" textLength="80.0" lengthAdjust="spacingAndGlyphs" stroke="#000" stroke-width="0.7">1400</text>
<text x="1076.3" y="1877.2" font-family="'Liberation Sans', sans-serif" font-size="39" font-weight="normal" text-anchor="start" textLength="80.0" lengthAdjust="spacingAndGlyphs" stroke="#000" stroke-width="0.7">1600</text>
<text x="1196.7" y="1877.2" font-family="'Liberation Sans', sans-serif" font-size="39" font-weight="normal" text-anchor="start" textLength="80.0" lengthAdjust="spacingAndGlyphs" stroke="#000" stroke-width="0.7">1800</text>
<text x="1317.0" y="1877.2" font-family="'Liberation Sans', sans-serif" font-size="39" font-weight="normal" text-anchor="start" textLength="80.0" lengthAdjust="spacingAndGlyphs" stroke="#000" stroke-width="0.7">2000</text>
<text x="558.6" y="1951.4" font-family="'Liberation Serif', serif" font-size="50" font-weight="bold" text-anchor="start" textLength="395.5" lengthAdjust="spacingAndGlyphs">Individuals number</text>
<text x="0" y="0" font-family="'Liberation Serif', serif" font-size="51.4" font-weight="bold" text-anchor="start" transform="translate(35.7 1819.3) scale(0.93 1) rotate(-90)">Species number</text>
<path d="M153.8 1805.6 L154.8 1803.4 L155.8 1801.4 L156.8 1799.4 L157.8 1797.5 L158.8 1795.7 L159.8 1793.8 L160.8 1792.1 L161.8 1790.4 L162.8 1788.7 L163.8 1787.0 L164.8 1785.4 L165.8 1783.9 L166.8 1782.3 L167.8 1780.8 L168.8 1779.3 L169.8 1777.8 L170.8 1776.4 L171.8 1775.0 L172.8 1773.6 L173.8 1772.3 L174.8 1770.9 L175.8 1769.6 L176.8 1768.3 L177.8 1767.1 L178.8 1765.8 L179.8 1764.6 L180.8 1763.4 L181.8 1762.2 L182.8 1761.1 L183.8 1760.0 L184.8 1758.8 L185.8 1757.7 L186.8 1756.7 L187.8 1755.6 L188.8 1754.6 L189.8 1753.5 L190.8 1752.5 L191.8 1751.5 L192.8 1750.6 L193.8 1749.6 L194.8 1748.7 L195.8 1747.7 L196.8 1746.8 L197.8 1745.9 L198.8 1745.0 L199.8 1744.1 L200.8 1743.2 L201.8 1742.4 L202.8 1741.5 L203.8 1740.7 L204.8 1739.8 L205.8 1739.0 L206.8 1738.2 L207.8 1737.4 L208.8 1736.6 L209.8 1735.8 L210.8 1735.0 L211.8 1734.2 L212.8 1733.4 L213.8 1732.7 L214.8 1731.9 L215.8 1731.1 L216.8 1730.4 L217.8 1729.6 L218.8 1728.9 L219.8 1728.2 L220.8 1727.5 L221.8 1726.7 L222.8 1726.0 L223.8 1725.3 L224.8 1724.6 L225.8 1723.9 L226.8 1723.2 L227.8 1722.5 L228.8 1721.8 L229.8 1721.1 L230.8 1720.4 L231.8 1719.8 L232.8 1719.1 L237.8 1715.8 L243.8 1711.9 L249.8 1708.1 L255.8 1704.5 L261.8 1700.9 L267.8 1697.5 L273.8 1694.1 L279.8 1690.9 L285.8 1687.7 L291.8 1684.7 L297.8 1681.7 L303.8 1678.8 L309.8 1676.0 L315.8 1673.3 L321.8 1670.7 L327.8 1668.2 L333.8 1665.8 L339.8 1663.4 L345.8 1661.1 L351.8 1659.0 L357.8 1656.8 L363.8 1654.8 L369.8 1652.8 L375.8 1650.9 L381.8 1649.0 L387.8 1647.2 L393.8 1645.4 L399.8 1643.6 L405.8 1641.8 L411.8 1640.1 L417.8 1638.4 L423.8 1636.7 L429.8 1635.1 L435.8 1633.4 L441.8 1631.7 L447.8 1630.1 L453.8 1628.4 L459.8 1626.8 L465.8 1625.1 L471.8 1623.4 L477.8 1621.8 L483.8 1620.2 L489.8 1618.5 L495.8 1616.9 L501.8 1615.3 L507.8 1613.7 L513.8 1612.1 L519.8 1610.5 L525.8 1608.9 L531.8 1607.4 L537.8 1605.9 L543.8 1604.4 L549.8 1602.9 L555.8 1601.5 L561.8 1600.1 L567.8 1598.7 L573.8 1597.3 L579.8 1596.0 L585.8 1594.7 L591.8 1593.4 L597.8 1592.1 L603.8 1590.9 L609.8 1589.7 L615.8 1588.5 L621.8 1587.3 L627.8 1586.1 L633.8 1585.0 L639.8 1583.9 L645.8 1582.8 L651.8 1581.7 L657.8 1580.7 L663.8 1579.6 L669.8 1578.6 L675.8 1577.6 L681.8 1576.5 L687.8 1575.6 L693.8 1574.6 L699.8 1573.6 L705.8 1572.6 L711.8 1571.7 L717.8 1570.7 L723.8 1569.7 L729.8 1568.8 L735.8 1567.8 L741.8 1566.9 L747.8 1565.9 L753.8 1565.0 L759.8 1564.0 L765.8 1563.1 L771.8 1562.1 L777.8 1561.2 L783.8 1560.2 L789.8 1559.3 L795.8 1558.3 L801.8 1557.4 L807.8 1556.4 L813.8 1555.5 L819.8 1554.6 L825.8 1553.6 L831.8 1552.7 L837.8 1551.8 L843.8 1550.9 L849.8 1550.0 L855.8 1549.1 L861.8 1548.2 L867.8 1547.3 L873.8 1546.4 L879.8 1545.5 L885.8 1544.6 L891.8 1543.8 L897.8 1542.9 L903.8 1542.0 L909.8 1541.2 L915.8 1540.3 L921.8 1539.5 L927.8 1538.7 L933.8 1537.8 L939.8 1537.0 L945.8 1536.2 L951.8 1535.4 L957.8 1534.6 L963.8 1533.8 L969.8 1533.0 L975.8 1532.2 L981.8 1531.4 L987.8 1530.6 L993.8 1529.8 L999.8 1529.1 L1005.8 1528.3 L1011.8 1527.5 L1017.8 1526.8 L1023.8 1526.0 L1029.8 1525.3 L1035.8 1524.5 L1041.8 1523.8 L1047.8 1523.1 L1053.8 1522.3 L1059.8 1521.6 L1065.8 1520.9 L1071.8 1520.2 L1077.8 1519.5 L1083.8 1518.8 L1089.8 1518.1 L1095.8 1517.4 L1101.8 1516.7 L1107.8 1516.0 L1113.8 1515.3 L1119.8 1514.7 L1125.8 1514.0 L1131.8 1513.3 L1137.8 1512.7 L1143.8 1512.0 L1149.8 1511.4 L1155.8 1510.7 L1161.8 1510.1 L1167.8 1509.4 L1173.8 1508.8 L1179.8 1508.2 L1185.8 1507.6 L1191.8 1506.9 L1197.8 1506.3 L1203.8 1505.7 L1209.8 1505.1 L1215.8 1504.5 L1221.8 1503.9 L1227.8 1503.3 L1233.8 1502.7 L1239.8 1502.1 L1245.8 1501.5 L1251.8 1501.0 L1257.8 1500.4 L1263.8 1499.8 L1269.8 1499.2 L1275.0 1498.8" fill="none" stroke="#000" stroke-width="6.4" stroke-linecap="round" stroke-linejoin="round"/>
<path d="M153.8 1805.6 L154.8 1802.9 L155.8 1800.9 L156.8 1799.1 L157.8 1797.5 L158.8 1795.9 L159.8 1794.3 L160.8 1792.8 L161.8 1791.4 L162.8 1790.0 L163.8 1788.6 L164.8 1787.3 L165.8 1786.0 L166.8 1784.8 L167.8 1783.5 L168.8 1782.3 L169.8 1781.2 L170.8 1780.0 L171.8 1778.9 L172.8 1777.8 L173.8 1776.7 L174.8 1775.6 L175.8 1774.6 L176.8 1773.6 L177.8 1772.5 L178.8 1771.6 L179.8 1770.6 L180.8 1769.7 L181.8 1768.7 L182.8 1767.8 L183.8 1766.9 L184.8 1766.0 L185.8 1765.2 L186.8 1764.3 L187.8 1763.5 L188.8 1762.7 L189.8 1761.9 L190.8 1761.1 L191.8 1760.3 L192.8 1759.6 L193.8 1758.8 L194.8 1758.1 L195.8 1757.3 L196.8 1756.6 L197.8 1755.9 L198.8 1755.2 L199.8 1754.5 L200.8 1753.9 L201.8 1753.2 L202.8 1752.6 L203.8 1751.9 L204.8 1751.3 L205.8 1750.6 L206.8 1750.0 L207.8 1749.4 L208.8 1748.8 L209.8 1748.2 L210.8 1747.6 L211.8 1747.0 L212.8 1746.4 L213.8 1745.9 L214.8 1745.3 L215.8 1744.7 L216.8 1744.2 L217.8 1743.6 L218.8 1743.1 L219.8 1742.6 L220.8 1742.0 L221.8 1741.5 L222.8 1741.0 L223.8 1740.5 L224.8 1740.0 L225.8 1739.4 L226.8 1738.9 L227.8 1738.4 L228.8 1738.0 L229.8 1737.5 L230.8 1737.0 L231.8 1736.5 L232.8 1736.0 L237.8 1733.7 L243.8 1731.1 L249.8 1728.5 L255.8 1726.1 L261.8 1723.7 L267.8 1721.5 L273.8 1719.2 L279.8 1717.1 L285.8 1714.9 L291.8 1712.9 L297.8 1710.8 L303.8 1708.8 L309.8 1706.8 L315.8 1704.9 L321.8 1703.0 L327.8 1701.2 L333.8 1699.4 L339.8 1697.6 L345.8 1695.9 L351.8 1694.2 L357.8 1692.6 L363.8 1691.0 L369.8 1689.5 L375.8 1688.0 L381.8 1686.6 L387.8 1685.2 L393.8 1683.8 L399.8 1682.5 L405.8 1681.2 L411.8 1680.0 L417.8 1678.7 L423.8 1677.5 L429.8 1676.3 L435.8 1675.2 L441.8 1674.0 L447.8 1672.8 L453.8 1671.7 L459.8 1670.5 L465.8 1669.4 L471.8 1668.3 L477.8 1667.2 L483.8 1666.0 L489.8 1664.9 L495.8 1663.8 L501.8 1662.7 L507.8 1661.5 L513.8 1660.4 L519.8 1659.3 L525.8 1658.2 L531.8 1657.1 L537.8 1656.0 L543.8 1655.0 L549.8 1653.9 L555.8 1652.8 L561.8 1651.8 L567.8 1650.7 L573.8 1649.7 L579.8 1648.7 L585.8 1647.7 L591.8 1646.7 L597.8 1645.7 L603.8 1644.7 L609.8 1643.8 L615.8 1642.8 L621.8 1641.9 L627.8 1641.0 L633.8 1640.0 L639.8 1639.1 L645.8 1638.3 L651.8 1637.4 L657.8 1636.5 L663.8 1635.7 L669.8 1634.9 L675.8 1634.1 L681.8 1633.3 L687.8 1632.5 L693.8 1631.7 L699.8 1630.9 L705.8 1630.1 L711.8 1629.4 L717.8 1628.6 L723.8 1627.9 L729.8 1627.2 L735.8 1626.5 L741.8 1625.7 L747.8 1625.0 L753.8 1624.3 L759.8 1623.6 L765.8 1622.9 L771.8 1622.3 L777.8 1621.6 L783.8 1620.9 L789.8 1620.2 L795.8 1619.5 L801.8 1618.9 L807.8 1618.2 L813.8 1617.6 L819.8 1616.9 L825.8 1616.2 L831.8 1615.6 L837.8 1614.9 L843.8 1614.3 L849.8 1613.6 L855.8 1613.0 L861.8 1612.3 L867.8 1611.7 L873.8 1611.0 L879.8 1610.4 L885.8 1609.7 L891.8 1609.1 L897.8 1608.4 L903.8 1607.7 L909.8 1607.1 L915.8 1606.4 L921.8 1605.8 L927.8 1605.1 L933.8 1604.4 L939.8 1603.8 L945.8 1603.1 L951.8 1602.4 L957.8 1601.8 L963.8 1601.1 L964.5 1601.0" fill="none" stroke="#bfbfbf" stroke-width="10" stroke-linecap="round" stroke-linejoin="round"/>
<path d="M153.8 1805.6 L154.8 1805.0 L155.8 1803.6 L156.8 1802.0 L157.8 1800.5 L158.8 1798.9 L159.8 1797.4 L160.8 1795.9 L161.8 1794.4 L162.8 1792.9 L163.8 1791.5 L164.8 1790.1 L165.8 1788.7 L166.8 1787.3 L167.8 1785.9 L168.8 1784.6 L169.8 1783.3 L170.8 1782.0 L171.8 1780.7 L172.8 1779.5 L173.8 1778.2 L174.8 1777.0 L175.8 1775.9 L176.8 1774.7 L177.8 1773.6 L178.8 1772.4 L179.8 1771.3 L180.8 1770.3 L181.8 1769.2 L182.8 1768.2 L183.8 1767.1 L184.8 1766.1 L185.8 1765.1 L186.8 1764.2 L187.8 1763.2 L188.8 1762.3 L189.8 1761.4 L190.8 1760.4 L191.8 1759.5 L192.8 1758.6 L193.8 1757.8 L194.8 1756.9 L195.8 1756.1 L196.8 1755.2 L197.8 1754.4 L198.8 1753.5 L199.8 1752.7 L200.8 1751.9 L201.8 1751.1 L202.8 1750.3 L203.8 1749.6 L204.8 1748.8 L205.8 1748.0 L206.8 1747.2 L207.8 1746.5 L208.8 1745.7 L209.8 1745.0 L210.8 1744.3 L211.8 1743.5 L212.8 1742.8 L213.8 1742.1 L214.8 1741.4 L215.8 1740.7 L216.8 1740.0 L217.8 1739.3 L218.8 1738.6 L219.8 1737.9 L220.8 1737.2 L221.8 1736.5 L222.8 1735.9 L223.8 1735.2 L224.8 1734.5 L225.8 1733.9 L226.8 1733.2 L227.8 1732.6 L228.8 1731.9 L229.8 1731.3 L230.8 1730.6 L231.8 1730.0 L232.8 1729.4 L234.8 1728.1 L237.8 1726.2 L240.8 1724.4 L243.8 1722.6 L246.8 1720.8 L249.8 1719.1 L252.8 1717.4 L255.8 1715.7 L258.8 1714.0 L261.8 1712.3 L264.8 1710.7 L267.8 1709.1 L270.8 1707.6 L273.8 1706.0 L276.8 1704.5 L279.8 1703.0 L282.8 1701.5 L285.8 1700.0 L288.8 1698.6 L291.8 1697.2 L294.8 1695.9 L297.8 1694.5 L300.8 1693.2 L303.8 1691.9 L306.8 1690.6 L309.8 1689.3 L312.8 1688.1 L315.8 1686.8 L318.8 1685.6 L321.8 1684.4 L324.8 1683.2 L327.8 1682.0 L330.8 1680.8 L333.8 1679.6 L336.8 1678.4 L339.8 1677.3 L342.8 1676.1 L345.8 1675.0 L348.8 1673.8 L351.8 1672.7 L354.8 1671.6 L357.8 1670.5 L360.8 1669.4 L363.8 1668.3 L366.8 1667.2 L369.8 1666.2 L372.8 1665.1 L375.8 1664.1 L378.8 1663.0 L381.8 1662.0 L384.8 1661.0 L387.8 1660.0 L390.8 1659.0 L393.8 1658.0 L396.8 1657.1 L399.8 1656.1 L402.8 1655.2 L405.8 1654.2 L408.8 1653.3 L411.8 1652.4 L414.8 1651.5 L417.8 1650.6 L420.8 1649.7 L423.8 1648.9 L426.8 1648.0 L429.8 1647.2 L432.8 1646.3 L435.8 1645.5 L438.8 1644.7 L441.8 1643.8 L444.8 1643.0 L447.8 1642.2 L450.8 1641.4 L453.8 1640.6 L456.8 1639.8 L459.8 1639.1 L462.8 1638.3 L465.8 1637.5 L468.8 1636.8 L471.8 1636.0 L474.8 1635.2 L477.8 1634.5 L480.8 1633.7 L483.8 1633.0 L486.8 1632.3 L489.8 1631.5 L492.8 1630.8 L495.8 1630.1 L498.8 1629.4 L501.8 1628.6 L504.8 1627.9 L507.8 1627.2 L510.8 1626.5 L513.8 1625.8 L516.8 1625.1 L519.8 1624.4 L522.8 1623.7 L525.8 1623.0 L528.8 1622.4 L531.8 1621.7 L534.8 1621.0 L537.8 1620.3 L540.8 1619.7 L543.8 1619.0 L546.8 1618.3 L549.8 1617.7 L552.8 1617.0 L555.8 1616.4 L558.8 1615.7 L561.8 1615.1 L564.8 1614.4 L567.8 1613.8 L570.8 1613.1 L573.8 1612.5 L576.8 1611.9 L579.8 1611.2 L582.8 1610.6 L585.8 1610.0 L588.8 1609.4 L591.8 1608.7 L594.8 1608.1 L597.8 1607.5 L600.8 1606.9 L603.8 1606.3 L606.8 1605.7 L609.8 1605.1 L612.8 1604.5 L615.8 1603.9 L618.8 1603.3 L621.8 1602.7 L624.8 1602.1 L627.8 1601.5 L630.8 1600.9 L633.8 1600.3 L636.8 1599.7 L639.8 1599.1 L642.8 1598.5 L645.8 1598.0 L648.8 1597.4 L651.8 1596.8 L654.8 1596.2 L657.8 1595.7 L660.8 1595.1 L663.8 1594.5 L666.8 1594.0 L669.8 1593.4 L672.8 1592.8 L675.8 1592.3 L678.8 1591.7 L681.8 1591.2 L684.8 1590.6 L687.8 1590.0 L690.8 1589.5 L693.8 1588.9 L696.8 1588.4 L699.8 1587.8 L702.8 1587.3 L705.8 1586.8 L708.8 1586.2 L711.8 1585.7 L714.8 1585.1 L717.8 1584.6 L720.8 1584.1 L723.8 1583.5 L726.8 1583.0 L729.8 1582.5 L732.8 1581.9 L735.8 1581.4 L738.8 1580.9 L741.8 1580.3 L744.8 1579.8 L747.8 1579.3 L750.8 1578.8 L753.8 1578.3 L756.8 1577.7 L759.8 1577.2 L762.8 1576.7 L765.8 1576.2 L768.8 1575.7 L771.8 1575.2 L774.8 1574.7 L777.8 1574.2 L780.8 1573.7 L783.8 1573.2 L786.8 1572.7 L789.8 1572.2 L792.8 1571.7 L795.8 1571.2 L798.8 1570.7 L801.8 1570.2 L804.8 1569.7 L807.8 1569.2 L810.8 1568.7 L813.8 1568.2 L816.8 1567.7 L819.8 1567.2 L822.8 1566.8 L825.8 1566.3 L828.8 1565.8 L831.8 1565.3 L834.8 1564.8 L837.8 1564.4 L840.8 1563.9 L843.8 1563.4 L846.8 1562.9 L849.8 1562.5 L852.8 1562.0 L855.8 1561.5 L858.8 1561.1 L861.8 1560.6 L864.8 1560.1 L867.8 1559.7 L870.8 1559.2 L873.8 1558.8 L876.8 1558.3 L879.8 1557.9 L882.8 1557.4 L885.8 1557.0 L888.8 1556.5 L891.8 1556.1 L894.8 1555.6 L897.8 1555.2 L900.8 1554.7 L903.8 1554.3 L906.8 1553.8 L909.8 1553.4 L912.8 1553.0 L915.8 1552.5 L918.8 1552.1 L921.8 1551.7 L924.8 1551.2 L927.8 1550.8 L930.8 1550.4 L933.8 1549.9 L936.8 1549.5 L939.8 1549.1 L942.8 1548.7 L945.8 1548.2 L948.8 1547.8 L951.8 1547.4 L954.8 1547.0 L957.8 1546.6 L960.8 1546.1 L963.8 1545.7 L966.8 1545.3 L969.8 1544.9 L972.8 1544.5 L975.8 1544.1 L978.8 1543.7 L981.8 1543.3 L984.8 1542.9 L987.8 1542.5 L990.8 1542.1 L993.8 1541.7 L996.8 1541.3 L999.8 1540.9 L1002.8 1540.5 L1005.8 1540.1 L1008.8 1539.7 L1011.8 1539.3 L1014.8 1538.9 L1017.8 1538.5 L1020.8 1538.2 L1023.8 1537.8 L1026.8 1537.4 L1029.8 1537.0 L1032.8 1536.6 L1035.8 1536.2 L1038.8 1535.8 L1041.8 1535.5 L1044.8 1535.1 L1047.8 1534.7 L1050.8 1534.3 L1053.8 1533.9 L1056.8 1533.5 L1059.8 1533.2 L1062.8 1532.8 L1065.8 1532.4 L1068.8 1532.0 L1071.8 1531.6 L1074.8 1531.2 L1077.8 1530.8 L1080.8 1530.5 L1083.8 1530.1 L1086.8 1529.7 L1089.8 1529.3 L1092.8 1528.9 L1095.8 1528.5 L1098.8 1528.1 L1101.8 1527.7 L1104.8 1527.3 L1107.8 1526.9 L1110.8 1526.5 L1113.8 1526.1 L1116.8 1525.7 L1119.8 1525.3 L1122.8 1524.9 L1125.8 1524.5 L1128.8 1524.1 L1131.8 1523.7 L1134.8 1523.3 L1137.8 1522.9 L1140.8 1522.5 L1143.8 1522.0 L1146.8 1521.6 L1149.8 1521.2 L1152.8 1520.8 L1155.8 1520.4 L1158.8 1519.9 L1161.8 1519.5 L1164.8 1519.1 L1167.8 1518.6 L1170.8 1518.2 L1173.8 1517.7 L1176.8 1517.3 L1179.8 1516.8 L1182.8 1516.4 L1185.8 1515.9 L1188.8 1515.5 L1191.8 1515.0 L1194.8 1514.6 L1197.8 1514.1 L1200.8 1513.6 L1203.8 1513.2 L1206.8 1512.7 L1209.8 1512.2 L1212.8 1511.7 L1215.8 1511.2 L1218.8 1510.8 L1221.8 1510.3 L1224.8 1509.8 L1227.8 1509.3 L1230.8 1508.8 L1233.8 1508.3 L1236.8 1507.8 L1239.8 1507.2 L1242.8 1506.7 L1245.8 1506.2 L1248.8 1505.7 L1251.8 1505.2 L1254.8 1504.6 L1257.8 1504.1 L1260.8 1503.5 L1263.8 1503.0" fill="none" stroke="#000" stroke-width="6.0" stroke-linecap="round" stroke-linejoin="round" stroke-dasharray="0 11.721"/>
<path d="M153.8 1805.6 L154.8 1806.5 L155.8 1804.5 L156.8 1802.2 L157.8 1799.7 L158.8 1797.3 L159.8 1794.9 L160.8 1792.5 L161.8 1790.2 L162.8 1787.9 L163.8 1785.6 L164.8 1783.4 L165.8 1781.3 L166.8 1779.2 L167.8 1777.2 L168.8 1775.3 L169.8 1773.4 L170.8 1771.6 L171.8 1769.8 L172.8 1768.0 L173.8 1766.4 L174.8 1764.7 L175.8 1763.1 L176.8 1761.6 L177.8 1760.0 L178.8 1758.6 L179.8 1757.1 L180.8 1755.7 L181.8 1754.3 L182.8 1752.9 L183.8 1751.6 L184.8 1750.3 L185.8 1749.0 L186.8 1747.7 L187.8 1746.5 L188.8 1745.3 L189.8 1744.1 L190.8 1742.9 L191.8 1741.8 L192.8 1740.6 L193.8 1739.5 L194.8 1738.4 L195.8 1737.4 L196.8 1736.3 L197.8 1735.3 L198.8 1734.2 L199.8 1733.2 L200.8 1732.2 L201.8 1731.3 L202.8 1730.3 L203.8 1729.3 L204.8 1728.4 L205.8 1727.5 L206.8 1726.5 L207.8 1725.6 L208.8 1724.7 L209.8 1723.9 L210.8 1723.0 L211.8 1722.1 L212.8 1721.3 L213.8 1720.4 L214.8 1719.6 L215.8 1718.7 L216.8 1717.9 L217.8 1717.1 L218.8 1716.3 L219.8 1715.5 L220.8 1714.7 L221.8 1713.9 L222.8 1713.2 L223.8 1712.4 L224.8 1711.6 L225.8 1710.9 L226.8 1710.1 L227.8 1709.4 L228.8 1708.7 L229.8 1707.9 L230.8 1707.2 L231.8 1706.5 L232.8 1705.8 L234.8 1704.4 L237.8 1702.3 L240.8 1700.3 L243.8 1698.3 L246.8 1696.4 L249.8 1694.4 L252.8 1692.6 L255.8 1690.7 L258.8 1688.9 L261.8 1687.1 L264.8 1685.4 L267.8 1683.6 L270.8 1681.9 L273.8 1680.3 L276.8 1678.6 L279.8 1677.0 L282.8 1675.4 L285.8 1673.8 L288.8 1672.3 L291.8 1670.8 L294.8 1669.3 L297.8 1667.8 L300.8 1666.3 L303.8 1664.9 L306.8 1663.4 L309.8 1662.0 L312.8 1660.6 L315.8 1659.3 L318.8 1657.9 L321.8 1656.6 L324.8 1655.3 L327.8 1654.0 L330.8 1652.7 L333.8 1651.4 L336.8 1650.2 L339.8 1648.9 L342.8 1647.7 L345.8 1646.5 L348.8 1645.3 L351.8 1644.1 L354.8 1643.0 L357.8 1641.8 L360.8 1640.7 L363.8 1639.6 L366.8 1638.5 L369.8 1637.4 L372.8 1636.3 L375.8 1635.2 L378.8 1634.2 L381.8 1633.1 L384.8 1632.1 L387.8 1631.1 L390.8 1630.1 L393.8 1629.1 L396.8 1628.1 L399.8 1627.1 L402.8 1626.1 L405.8 1625.2 L408.8 1624.2 L411.8 1623.3 L414.8 1622.3 L417.8 1621.4 L420.8 1620.5 L423.8 1619.6 L426.8 1618.7 L429.8 1617.8 L432.8 1616.9 L435.8 1616.1 L438.8 1615.2 L441.8 1614.4 L444.8 1613.5 L447.8 1612.7 L450.8 1611.8 L453.8 1611.0 L456.8 1610.2 L459.8 1609.4 L462.8 1608.6 L465.8 1607.8 L468.8 1607.0 L471.8 1606.2 L474.8 1605.4 L477.8 1604.6 L480.8 1603.9 L483.8 1603.1 L486.8 1602.4 L489.8 1601.6 L492.8 1600.9 L495.8 1600.1 L498.8 1599.4 L501.8 1598.7 L504.8 1598.0 L507.8 1597.2 L510.8 1596.5 L513.8 1595.8 L516.8 1595.1 L519.8 1594.4 L522.8 1593.7 L525.8 1593.1 L528.8 1592.4 L531.8 1591.7 L534.8 1591.0 L537.8 1590.4 L540.8 1589.7 L543.8 1589.0 L546.8 1588.4 L549.8 1587.7 L552.8 1587.1 L555.8 1586.4 L558.8 1585.8 L561.8 1585.2 L564.8 1584.5 L567.8 1583.9 L570.8 1583.3 L573.8 1582.7 L576.8 1582.1 L579.8 1581.4 L582.8 1580.8 L585.8 1580.2 L588.8 1579.6 L591.8 1579.0 L594.8 1578.4 L597.8 1577.8 L600.8 1577.3 L603.8 1576.7 L606.8 1576.1 L609.8 1575.5 L612.8 1574.9 L615.8 1574.4 L618.8 1573.8 L621.8 1573.2 L624.8 1572.7 L627.8 1572.1 L630.8 1571.6 L633.8 1571.0 L636.8 1570.4 L639.8 1569.9 L642.8 1569.4 L645.8 1568.8 L648.8 1568.3 L651.8 1567.7 L654.8 1567.2 L657.8 1566.7 L660.8 1566.1 L663.8 1565.6 L666.8 1565.1 L669.8 1564.6 L672.8 1564.0 L675.8 1563.5 L678.8 1563.0 L681.8 1562.5 L684.8 1562.0 L687.8 1561.5 L690.8 1561.0 L693.8 1560.4 L696.8 1559.9 L699.8 1559.4 L702.8 1558.9 L705.8 1558.4 L708.8 1557.9 L711.8 1557.5 L714.8 1557.0 L717.8 1556.5 L720.8 1556.0 L723.8 1555.5 L726.8 1555.0 L729.8 1554.5 L732.8 1554.1 L735.8 1553.6 L738.8 1553.1 L741.8 1552.6 L744.8 1552.2 L747.8 1551.7 L750.8 1551.2 L753.8 1550.7 L756.8 1550.3 L759.8 1549.8 L762.8 1549.4 L765.8 1548.9 L768.8 1548.4 L771.8 1548.0 L774.8 1547.5 L777.8 1547.1 L780.8 1546.6 L783.8 1546.2 L786.8 1545.7 L789.8 1545.3 L792.8 1544.8 L795.8 1544.4 L798.8 1543.9 L801.8 1543.5 L804.8 1543.1 L807.8 1542.6 L810.8 1542.2 L813.8 1541.7 L816.8 1541.3 L819.8 1540.9 L822.8 1540.5 L825.8 1540.0 L828.8 1539.6 L831.8 1539.2 L834.8 1538.8 L837.8 1538.3 L840.8 1537.9 L843.8 1537.5 L846.8 1537.1 L849.8 1536.7 L852.8 1536.3 L855.8 1535.8 L858.8 1535.4 L861.8 1535.0 L864.8 1534.6 L867.8 1534.2 L870.8 1533.8 L873.8 1533.4 L876.8 1533.0 L879.8 1532.6 L882.8 1532.2 L885.8 1531.8 L888.8 1531.4 L891.8 1531.0 L894.8 1530.7 L897.8 1530.3 L900.8 1529.9 L903.8 1529.5 L906.8 1529.1 L909.8 1528.7 L912.8 1528.4 L915.8 1528.0 L918.8 1527.6 L921.8 1527.2 L924.8 1526.9 L927.8 1526.5 L930.8 1526.1 L933.8 1525.8 L936.8 1525.4 L939.8 1525.0 L942.8 1524.7 L945.8 1524.3 L948.8 1523.9 L951.8 1523.6 L954.8 1523.2 L957.8 1522.9 L960.8 1522.5 L963.8 1522.2 L966.8 1521.8 L969.8 1521.5 L972.8 1521.1 L975.8 1520.8 L978.8 1520.5 L981.8 1520.1 L984.8 1519.8 L987.8 1519.4 L990.8 1519.1 L993.8 1518.8 L996.8 1518.4 L999.8 1518.1 L1002.8 1517.8 L1005.8 1517.5 L1008.8 1517.1 L1011.8 1516.8 L1014.8 1516.5 L1017.8 1516.2 L1020.8 1515.8 L1023.8 1515.5 L1026.8 1515.2 L1029.8 1514.9 L1032.8 1514.6 L1035.8 1514.3 L1038.8 1514.0 L1041.8 1513.7 L1044.8 1513.4 L1047.8 1513.0 L1050.8 1512.7 L1053.8 1512.4 L1056.8 1512.1 L1059.8 1511.8 L1062.8 1511.6 L1065.8 1511.3 L1068.8 1511.0 L1071.8 1510.7 L1074.8 1510.4 L1077.8 1510.1 L1080.8 1509.8 L1083.8 1509.5 L1086.8 1509.2 L1089.8 1509.0 L1092.8 1508.7 L1095.8 1508.4 L1098.8 1508.1 L1101.8 1507.9 L1104.8 1507.6 L1107.8 1507.3 L1110.8 1507.1 L1113.8 1506.8 L1116.8 1506.5 L1119.8 1506.3 L1122.8 1506.0 L1125.8 1505.7 L1128.8 1505.5 L1131.8 1505.2 L1134.8 1505.0 L1137.8 1504.7 L1140.8 1504.4 L1143.8 1504.2 L1146.8 1503.9 L1149.8 1503.7 L1152.8 1503.5 L1155.8 1503.2 L1158.8 1503.0 L1161.8 1502.7 L1164.8 1502.5 L1167.8 1502.2 L1170.8 1502.0 L1173.8 1501.8 L1176.8 1501.5 L1179.8 1501.3 L1182.8 1501.1 L1185.8 1500.8 L1188.8 1500.6 L1191.8 1500.4 L1194.8 1500.2 L1197.8 1499.9 L1200.8 1499.7 L1203.8 1499.5 L1206.8 1499.3 L1209.8 1499.1 L1212.8 1498.9 L1215.8 1498.6 L1218.8 1498.4 L1221.8 1498.2 L1224.8 1498.0 L1227.8 1497.8 L1230.8 1497.6 L1233.8 1497.4 L1236.8 1497.2 L1239.8 1497.0 L1242.8 1496.8 L1245.8 1496.6 L1248.8 1496.4 L1251.8 1496.2 L1254.8 1496.0 L1257.8 1495.8 L1260.8 1495.6 L1263.8 1495.5 L1266.8 1495.3 L1269.8 1495.1 L1271.2 1495.0" fill="none" stroke="#555555" stroke-width="6.0" stroke-linecap="round" stroke-linejoin="round" stroke-dasharray="0 11.645"/>
<text x="1311.1" y="1512.2" font-family="'Liberation Sans', sans-serif" font-size="39" font-weight="normal" text-anchor="start" textLength="60.0" lengthAdjust="spacingAndGlyphs" stroke="#000" stroke-width="0.7">224</text>
<text x="1004.8" y="1606" font-family="'Liberation Sans', sans-serif" font-size="39" font-weight="normal" text-anchor="start" textLength="60.0" lengthAdjust="spacingAndGlyphs" stroke="#000" stroke-width="0.7">149</text>
</svg>
</body>
</html>
